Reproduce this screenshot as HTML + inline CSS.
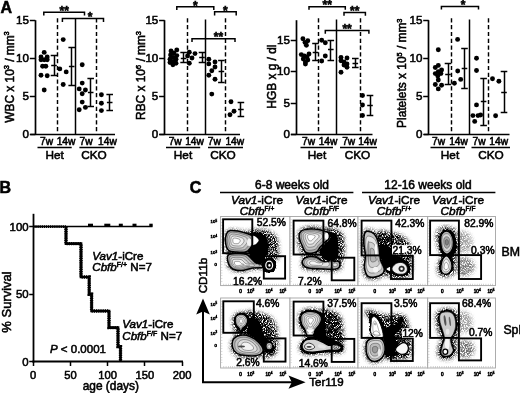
<!DOCTYPE html>
<html><head><meta charset="utf-8"><title>Figure</title>
<style>
html,body{margin:0;padding:0;background:#fff;}
svg{display:block;font-family:"Liberation Sans", Arial, sans-serif;}
text{stroke:#000;stroke-width:0.55px;}
</style></head><body>
<svg width="520" height="393" viewBox="0 0 520 393">
<rect width="520" height="393" fill="#fff"/>
<filter id="gb" x="0" y="0" width="520" height="393" filterUnits="userSpaceOnUse"><feGaussianBlur stdDeviation="0.42"/></filter>
<g filter="url(#gb)">
<line x1="35.50" y1="20.20" x2="35.50" y2="135.00" stroke="#000" stroke-width="1.7" />
<line x1="30.30" y1="134.50" x2="115.00" y2="134.50" stroke="#000" stroke-width="1.7" />
<line x1="29.80" y1="20.50" x2="35.30" y2="20.50" stroke="#000" stroke-width="1.5" />
<text x="29.00" y="24.00" font-size="11.6" text-anchor="end" font-weight="normal" font-style="normal" >15</text>
<line x1="29.80" y1="58.50" x2="35.30" y2="58.50" stroke="#000" stroke-width="1.5" />
<text x="29.00" y="61.80" font-size="11.6" text-anchor="end" font-weight="normal" font-style="normal" >10</text>
<line x1="29.80" y1="96.50" x2="35.30" y2="96.50" stroke="#000" stroke-width="1.5" />
<text x="29.00" y="99.80" font-size="11.6" text-anchor="end" font-weight="normal" font-style="normal" >5</text>
<line x1="29.80" y1="134.50" x2="35.30" y2="134.50" stroke="#000" stroke-width="1.5" />
<text x="29.00" y="137.60" font-size="11.6" text-anchor="end" font-weight="normal" font-style="normal" >0</text>
<line x1="57.50" y1="18.30" x2="57.50" y2="134.20" stroke="#000" stroke-width="1.45" stroke-dasharray="4.2 2.6" />
<line x1="75.50" y1="18.50" x2="75.50" y2="134.20" stroke="#000" stroke-width="1.5" />
<line x1="96.50" y1="18.30" x2="96.50" y2="134.20" stroke="#000" stroke-width="1.45" stroke-dasharray="4.2 2.6" />
<circle cx="44.2" cy="52.4" r="2.45"/>
<circle cx="41.0" cy="57.0" r="2.45"/>
<circle cx="47.2" cy="57.0" r="2.45"/>
<circle cx="41.0" cy="59.8" r="2.45"/>
<circle cx="44.2" cy="59.8" r="2.45"/>
<circle cx="47.2" cy="59.8" r="2.45"/>
<circle cx="42.6" cy="66.2" r="2.45"/>
<circle cx="45.8" cy="66.2" r="2.45"/>
<circle cx="41.0" cy="75.3" r="2.45"/>
<circle cx="47.2" cy="75.8" r="2.45"/>
<circle cx="44.2" cy="90.0" r="2.45"/>
<circle cx="63.2" cy="39.6" r="2.45"/>
<circle cx="59.8" cy="68.9" r="2.45"/>
<circle cx="66.2" cy="71.9" r="2.45"/>
<circle cx="63.2" cy="84.5" r="2.45"/>
<circle cx="82.2" cy="64.8" r="2.45"/>
<circle cx="82.2" cy="83.1" r="2.45"/>
<circle cx="79.2" cy="88.9" r="2.45"/>
<circle cx="85.4" cy="90.0" r="2.45"/>
<circle cx="82.2" cy="93.7" r="2.45"/>
<circle cx="82.2" cy="102.1" r="2.45"/>
<circle cx="85.4" cy="107.4" r="2.45"/>
<circle cx="79.2" cy="109.7" r="2.45"/>
<circle cx="101.4" cy="94.8" r="2.45"/>
<circle cx="101.4" cy="103.3" r="2.45"/>
<circle cx="101.4" cy="110.6" r="2.45"/>
<line x1="54.50" y1="55.20" x2="54.50" y2="75.30" stroke="#000" stroke-width="1.5" />
<line x1="50.70" y1="55.50" x2="57.30" y2="55.50" stroke="#000" stroke-width="1.5" />
<line x1="50.70" y1="75.50" x2="57.30" y2="75.50" stroke="#000" stroke-width="1.5" />
<line x1="51.20" y1="65.50" x2="56.80" y2="65.50" stroke="#000" stroke-width="1.5" />
<line x1="71.50" y1="47.20" x2="71.50" y2="85.00" stroke="#000" stroke-width="1.5" />
<line x1="68.40" y1="47.50" x2="75.00" y2="47.50" stroke="#000" stroke-width="1.5" />
<line x1="68.40" y1="85.50" x2="75.00" y2="85.50" stroke="#000" stroke-width="1.5" />
<line x1="68.90" y1="66.50" x2="74.50" y2="66.50" stroke="#000" stroke-width="1.5" />
<line x1="90.50" y1="78.10" x2="90.50" y2="106.70" stroke="#000" stroke-width="1.5" />
<line x1="87.40" y1="78.50" x2="94.00" y2="78.50" stroke="#000" stroke-width="1.5" />
<line x1="87.40" y1="106.50" x2="94.00" y2="106.50" stroke="#000" stroke-width="1.5" />
<line x1="87.90" y1="92.50" x2="93.50" y2="92.50" stroke="#000" stroke-width="1.5" />
<line x1="109.50" y1="94.80" x2="109.50" y2="110.60" stroke="#000" stroke-width="1.5" />
<line x1="106.40" y1="94.50" x2="113.00" y2="94.50" stroke="#000" stroke-width="1.5" />
<line x1="106.40" y1="110.50" x2="113.00" y2="110.50" stroke="#000" stroke-width="1.5" />
<line x1="106.90" y1="102.50" x2="112.50" y2="102.50" stroke="#000" stroke-width="1.5" />
<text transform="translate(13.6,77) rotate(-90)" font-size="11.9" text-anchor="middle">WBC x 10<tspan font-size="7.4" dy="-4.2">3</tspan><tspan dy="4.2"> / mm</tspan><tspan font-size="7.4" dy="-4.2">3</tspan></text>
<text x="46.50" y="145.30" font-size="10.2" text-anchor="middle" font-weight="normal" font-style="normal" >7w</text>
<text x="66.00" y="145.30" font-size="10.2" text-anchor="middle" font-weight="normal" font-style="normal" >14w</text>
<text x="86.00" y="145.30" font-size="10.2" text-anchor="middle" font-weight="normal" font-style="normal" >7w</text>
<text x="107.40" y="145.30" font-size="10.2" text-anchor="middle" font-weight="normal" font-style="normal" >14w</text>
<line x1="37.50" y1="147.50" x2="71.70" y2="147.50" stroke="#000" stroke-width="1.5" />
<line x1="79.40" y1="147.50" x2="114.40" y2="147.50" stroke="#000" stroke-width="1.5" />
<text x="54.60" y="159.20" font-size="11.8" text-anchor="middle" font-weight="normal" font-style="normal" >Het</text>
<text x="94.00" y="159.20" font-size="11.8" text-anchor="middle" font-weight="normal" font-style="normal" >CKO</text>
<path d="M43.80 15.50V12.30H84.50V15.50" fill="none" stroke="#000" stroke-width="1.5"/>
<text x="64.15" y="15.00" font-size="12" text-anchor="middle" font-weight="bold" font-style="normal" stroke-width="0.3">**</text>
<path d="M62.40 22.10V18.50H103.50V22.10" fill="none" stroke="#000" stroke-width="1.5"/>
<text x="90.00" y="21.20" font-size="12" text-anchor="middle" font-weight="bold" font-style="normal" stroke-width="0.3">*</text>
<!--chart2-->
<line x1="164.50" y1="20.20" x2="164.50" y2="135.00" stroke="#000" stroke-width="1.7" />
<line x1="159.50" y1="134.50" x2="240.00" y2="134.50" stroke="#000" stroke-width="1.7" />
<line x1="159.10" y1="20.50" x2="164.60" y2="20.50" stroke="#000" stroke-width="1.5" />
<text x="158.30" y="24.00" font-size="11.6" text-anchor="end" font-weight="normal" font-style="normal" >15</text>
<line x1="159.10" y1="58.50" x2="164.60" y2="58.50" stroke="#000" stroke-width="1.5" />
<text x="158.30" y="61.80" font-size="11.6" text-anchor="end" font-weight="normal" font-style="normal" >10</text>
<line x1="159.10" y1="96.50" x2="164.60" y2="96.50" stroke="#000" stroke-width="1.5" />
<text x="158.30" y="99.80" font-size="11.6" text-anchor="end" font-weight="normal" font-style="normal" >5</text>
<line x1="159.10" y1="134.50" x2="164.60" y2="134.50" stroke="#000" stroke-width="1.5" />
<text x="158.30" y="137.60" font-size="11.6" text-anchor="end" font-weight="normal" font-style="normal" >0</text>
<line x1="187.50" y1="18.30" x2="187.50" y2="134.20" stroke="#000" stroke-width="1.45" stroke-dasharray="4.2 2.6" />
<line x1="205.50" y1="19.50" x2="205.50" y2="134.20" stroke="#000" stroke-width="1.5" />
<line x1="225.50" y1="18.30" x2="225.50" y2="134.20" stroke="#000" stroke-width="1.45" stroke-dasharray="4.2 2.6" />
<circle cx="171.0" cy="51.0" r="2.45"/>
<circle cx="176.8" cy="50.0" r="2.45"/>
<circle cx="173.8" cy="53.0" r="2.45"/>
<circle cx="170.6" cy="55.0" r="2.45"/>
<circle cx="176.8" cy="55.6" r="2.45"/>
<circle cx="173.3" cy="57.5" r="2.45"/>
<circle cx="170.0" cy="59.3" r="2.45"/>
<circle cx="176.0" cy="59.3" r="2.45"/>
<circle cx="172.9" cy="61.6" r="2.45"/>
<circle cx="170.0" cy="62.5" r="2.45"/>
<circle cx="176.0" cy="63.2" r="2.45"/>
<circle cx="172.9" cy="64.8" r="2.45"/>
<circle cx="189.3" cy="52.2" r="2.45"/>
<circle cx="195.0" cy="53.6" r="2.45"/>
<circle cx="192.0" cy="58.0" r="2.45"/>
<circle cx="189.3" cy="63.2" r="2.45"/>
<circle cx="187.6" cy="56.0" r="2.45"/>
<circle cx="208.8" cy="59.3" r="2.45"/>
<circle cx="208.8" cy="63.9" r="2.45"/>
<circle cx="215.0" cy="62.0" r="2.45"/>
<circle cx="215.0" cy="67.0" r="2.45"/>
<circle cx="211.8" cy="70.8" r="2.45"/>
<circle cx="208.8" cy="75.3" r="2.45"/>
<circle cx="215.0" cy="79.2" r="2.45"/>
<circle cx="211.8" cy="94.1" r="2.45"/>
<circle cx="231.0" cy="101.7" r="2.45"/>
<circle cx="234.0" cy="111.3" r="2.45"/>
<circle cx="230.0" cy="114.7" r="2.45"/>
<line x1="183.50" y1="52.90" x2="183.50" y2="62.70" stroke="#000" stroke-width="1.5" />
<line x1="180.30" y1="52.50" x2="186.90" y2="52.50" stroke="#000" stroke-width="1.5" />
<line x1="180.30" y1="62.50" x2="186.90" y2="62.50" stroke="#000" stroke-width="1.5" />
<line x1="180.80" y1="58.50" x2="186.40" y2="58.50" stroke="#000" stroke-width="1.5" />
<line x1="202.50" y1="52.90" x2="202.50" y2="62.00" stroke="#000" stroke-width="1.5" />
<line x1="198.70" y1="52.50" x2="205.30" y2="52.50" stroke="#000" stroke-width="1.5" />
<line x1="198.70" y1="62.50" x2="205.30" y2="62.50" stroke="#000" stroke-width="1.5" />
<line x1="199.20" y1="57.50" x2="204.80" y2="57.50" stroke="#000" stroke-width="1.5" />
<line x1="221.50" y1="60.20" x2="221.50" y2="82.70" stroke="#000" stroke-width="1.5" />
<line x1="218.10" y1="60.50" x2="224.70" y2="60.50" stroke="#000" stroke-width="1.5" />
<line x1="218.10" y1="82.50" x2="224.70" y2="82.50" stroke="#000" stroke-width="1.5" />
<line x1="218.60" y1="71.50" x2="224.20" y2="71.50" stroke="#000" stroke-width="1.5" />
<line x1="240.50" y1="102.80" x2="240.50" y2="116.60" stroke="#000" stroke-width="1.5" />
<line x1="237.60" y1="102.50" x2="244.20" y2="102.50" stroke="#000" stroke-width="1.5" />
<line x1="237.60" y1="116.50" x2="244.20" y2="116.50" stroke="#000" stroke-width="1.5" />
<line x1="238.10" y1="109.50" x2="243.70" y2="109.50" stroke="#000" stroke-width="1.5" />
<text transform="translate(145,75.5) rotate(-90)" font-size="11.9" text-anchor="middle">RBC x 10<tspan font-size="7.4" dy="-4.2">6</tspan><tspan dy="4.2"> / mm</tspan><tspan font-size="7.4" dy="-4.2">3</tspan></text>
<text x="175.20" y="145.30" font-size="10.2" text-anchor="middle" font-weight="normal" font-style="normal" >7w</text>
<text x="194.50" y="145.30" font-size="10.2" text-anchor="middle" font-weight="normal" font-style="normal" >14w</text>
<text x="214.30" y="145.30" font-size="10.2" text-anchor="middle" font-weight="normal" font-style="normal" >7w</text>
<text x="234.80" y="145.30" font-size="10.2" text-anchor="middle" font-weight="normal" font-style="normal" >14w</text>
<line x1="166.00" y1="147.50" x2="200.20" y2="147.50" stroke="#000" stroke-width="1.5" />
<line x1="208.00" y1="147.50" x2="243.00" y2="147.50" stroke="#000" stroke-width="1.5" />
<text x="183.00" y="159.20" font-size="11.8" text-anchor="middle" font-weight="normal" font-style="normal" >Het</text>
<text x="223.00" y="159.20" font-size="11.8" text-anchor="middle" font-weight="normal" font-style="normal" >CKO</text>
<path d="M176.80 10.00V6.80H213.80V10.00" fill="none" stroke="#000" stroke-width="1.5"/>
<text x="195.30" y="9.50" font-size="12" text-anchor="middle" font-weight="bold" font-style="normal" stroke-width="0.3">*</text>
<path d="M214.60 15.40V11.80H236.20V15.40" fill="none" stroke="#000" stroke-width="1.5"/>
<text x="225.40" y="14.50" font-size="12" text-anchor="middle" font-weight="bold" font-style="normal" stroke-width="0.3">*</text>
<path d="M192.00 42.00V38.70H235.00V42.00" fill="none" stroke="#000" stroke-width="1.5"/>
<text x="218.40" y="41.40" font-size="12" text-anchor="middle" font-weight="bold" font-style="normal" stroke-width="0.3">**</text>
<!--chart3-->
<line x1="296.50" y1="20.20" x2="296.50" y2="135.00" stroke="#000" stroke-width="1.7" />
<line x1="291.00" y1="134.50" x2="372.50" y2="134.50" stroke="#000" stroke-width="1.7" />
<line x1="290.70" y1="40.50" x2="296.20" y2="40.50" stroke="#000" stroke-width="1.5" />
<text x="289.90" y="43.60" font-size="11.6" text-anchor="end" font-weight="normal" font-style="normal" >15</text>
<line x1="290.70" y1="71.50" x2="296.20" y2="71.50" stroke="#000" stroke-width="1.5" />
<text x="289.90" y="75.20" font-size="11.6" text-anchor="end" font-weight="normal" font-style="normal" >10</text>
<line x1="290.70" y1="103.50" x2="296.20" y2="103.50" stroke="#000" stroke-width="1.5" />
<text x="289.90" y="106.60" font-size="11.6" text-anchor="end" font-weight="normal" font-style="normal" >5</text>
<line x1="290.70" y1="134.50" x2="296.20" y2="134.50" stroke="#000" stroke-width="1.5" />
<text x="289.90" y="137.60" font-size="11.6" text-anchor="end" font-weight="normal" font-style="normal" >0</text>
<line x1="318.50" y1="18.30" x2="318.50" y2="134.20" stroke="#000" stroke-width="1.45" stroke-dasharray="4.2 2.6" />
<line x1="336.50" y1="19.50" x2="336.50" y2="134.20" stroke="#000" stroke-width="1.5" />
<line x1="360.50" y1="18.30" x2="360.50" y2="134.20" stroke="#000" stroke-width="1.45" stroke-dasharray="4.2 2.6" />
<circle cx="302.9" cy="38.7" r="2.45"/>
<circle cx="307.8" cy="40.7" r="2.45"/>
<circle cx="305.0" cy="42.4" r="2.45"/>
<circle cx="306.4" cy="45.2" r="2.45"/>
<circle cx="301.3" cy="54.6" r="2.45"/>
<circle cx="309.0" cy="54.0" r="2.45"/>
<circle cx="304.3" cy="56.0" r="2.45"/>
<circle cx="307.0" cy="57.0" r="2.45"/>
<circle cx="303.3" cy="59.0" r="2.45"/>
<circle cx="307.8" cy="60.0" r="2.45"/>
<circle cx="305.4" cy="62.0" r="2.45"/>
<circle cx="305.4" cy="64.0" r="2.45"/>
<circle cx="321.7" cy="40.3" r="2.45"/>
<circle cx="325.3" cy="42.8" r="2.45"/>
<circle cx="325.3" cy="56.0" r="2.45"/>
<circle cx="321.7" cy="61.0" r="2.45"/>
<circle cx="341.0" cy="57.4" r="2.45"/>
<circle cx="347.0" cy="58.0" r="2.45"/>
<circle cx="341.0" cy="60.7" r="2.45"/>
<circle cx="344.0" cy="62.0" r="2.45"/>
<circle cx="347.0" cy="64.0" r="2.45"/>
<circle cx="344.0" cy="65.0" r="2.45"/>
<circle cx="347.0" cy="67.2" r="2.45"/>
<circle cx="341.0" cy="72.3" r="2.45"/>
<circle cx="362.5" cy="95.5" r="2.45"/>
<circle cx="362.5" cy="105.0" r="2.45"/>
<circle cx="362.5" cy="115.5" r="2.45"/>
<line x1="315.50" y1="43.80" x2="315.50" y2="60.00" stroke="#000" stroke-width="1.5" />
<line x1="312.20" y1="43.50" x2="318.80" y2="43.50" stroke="#000" stroke-width="1.5" />
<line x1="312.20" y1="60.50" x2="318.80" y2="60.50" stroke="#000" stroke-width="1.5" />
<line x1="312.70" y1="52.50" x2="318.30" y2="52.50" stroke="#000" stroke-width="1.5" />
<line x1="330.50" y1="40.70" x2="330.50" y2="60.00" stroke="#000" stroke-width="1.5" />
<line x1="327.50" y1="40.50" x2="334.10" y2="40.50" stroke="#000" stroke-width="1.5" />
<line x1="327.50" y1="60.50" x2="334.10" y2="60.50" stroke="#000" stroke-width="1.5" />
<line x1="328.00" y1="49.50" x2="333.60" y2="49.50" stroke="#000" stroke-width="1.5" />
<line x1="355.50" y1="58.70" x2="355.50" y2="67.60" stroke="#000" stroke-width="1.5" />
<line x1="352.00" y1="58.50" x2="358.60" y2="58.50" stroke="#000" stroke-width="1.5" />
<line x1="352.00" y1="67.50" x2="358.60" y2="67.50" stroke="#000" stroke-width="1.5" />
<line x1="352.50" y1="63.50" x2="358.10" y2="63.50" stroke="#000" stroke-width="1.5" />
<line x1="370.50" y1="95.50" x2="370.50" y2="115.50" stroke="#000" stroke-width="1.5" />
<line x1="366.70" y1="95.50" x2="373.30" y2="95.50" stroke="#000" stroke-width="1.5" />
<line x1="366.70" y1="115.50" x2="373.30" y2="115.50" stroke="#000" stroke-width="1.5" />
<line x1="367.20" y1="105.50" x2="372.80" y2="105.50" stroke="#000" stroke-width="1.5" />
<text transform="translate(276,76.6) rotate(-90)" font-size="11.9" text-anchor="middle">HGB x g / dl</text>
<text x="308.50" y="145.30" font-size="10.2" text-anchor="middle" font-weight="normal" font-style="normal" >7w</text>
<text x="328.00" y="145.30" font-size="10.2" text-anchor="middle" font-weight="normal" font-style="normal" >14w</text>
<text x="348.70" y="145.30" font-size="10.2" text-anchor="middle" font-weight="normal" font-style="normal" >7w</text>
<text x="367.50" y="145.30" font-size="10.2" text-anchor="middle" font-weight="normal" font-style="normal" >14w</text>
<line x1="300.50" y1="147.50" x2="333.00" y2="147.50" stroke="#000" stroke-width="1.5" />
<line x1="340.00" y1="147.50" x2="377.00" y2="147.50" stroke="#000" stroke-width="1.5" />
<text x="317.00" y="159.20" font-size="11.8" text-anchor="middle" font-weight="normal" font-style="normal" >Het</text>
<text x="357.50" y="159.20" font-size="11.8" text-anchor="middle" font-weight="normal" font-style="normal" >CKO</text>
<path d="M309.00 9.70V6.70H345.30V9.70" fill="none" stroke="#000" stroke-width="1.5"/>
<text x="327.15" y="9.40" font-size="12" text-anchor="middle" font-weight="bold" font-style="normal" stroke-width="0.3">**</text>
<path d="M344.00 15.80V12.60H365.40V15.80" fill="none" stroke="#000" stroke-width="1.5"/>
<text x="354.70" y="15.30" font-size="12" text-anchor="middle" font-weight="bold" font-style="normal" stroke-width="0.3">**</text>
<path d="M325.30 33.70V30.50H368.90V33.70" fill="none" stroke="#000" stroke-width="1.5"/>
<text x="347.10" y="33.20" font-size="12" text-anchor="middle" font-weight="bold" font-style="normal" stroke-width="0.3">**</text>
<!--chart4-->
<line x1="428.50" y1="20.20" x2="428.50" y2="135.00" stroke="#000" stroke-width="1.7" />
<line x1="424.00" y1="134.50" x2="509.50" y2="134.50" stroke="#000" stroke-width="1.7" />
<line x1="423.20" y1="20.50" x2="428.70" y2="20.50" stroke="#000" stroke-width="1.5" />
<text x="422.40" y="24.00" font-size="11.6" text-anchor="end" font-weight="normal" font-style="normal" >15</text>
<line x1="423.20" y1="58.50" x2="428.70" y2="58.50" stroke="#000" stroke-width="1.5" />
<text x="422.40" y="61.80" font-size="11.6" text-anchor="end" font-weight="normal" font-style="normal" >10</text>
<line x1="423.20" y1="96.50" x2="428.70" y2="96.50" stroke="#000" stroke-width="1.5" />
<text x="422.40" y="99.80" font-size="11.6" text-anchor="end" font-weight="normal" font-style="normal" >5</text>
<line x1="423.20" y1="134.50" x2="428.70" y2="134.50" stroke="#000" stroke-width="1.5" />
<text x="422.40" y="137.60" font-size="11.6" text-anchor="end" font-weight="normal" font-style="normal" >0</text>
<line x1="451.50" y1="18.30" x2="451.50" y2="134.20" stroke="#000" stroke-width="1.45" stroke-dasharray="4.2 2.6" />
<line x1="469.50" y1="19.50" x2="469.50" y2="134.20" stroke="#000" stroke-width="1.5" />
<line x1="488.50" y1="18.30" x2="488.50" y2="134.20" stroke="#000" stroke-width="1.45" stroke-dasharray="4.2 2.6" />
<circle cx="438.3" cy="49.7" r="2.45"/>
<circle cx="438.3" cy="65.4" r="2.45"/>
<circle cx="435.3" cy="67.5" r="2.45"/>
<circle cx="441.6" cy="70.0" r="2.45"/>
<circle cx="438.3" cy="71.8" r="2.45"/>
<circle cx="435.3" cy="73.6" r="2.45"/>
<circle cx="440.9" cy="73.6" r="2.45"/>
<circle cx="437.8" cy="76.1" r="2.45"/>
<circle cx="438.3" cy="80.0" r="2.45"/>
<circle cx="435.3" cy="84.5" r="2.45"/>
<circle cx="441.6" cy="85.3" r="2.45"/>
<circle cx="438.3" cy="88.9" r="2.45"/>
<circle cx="457.6" cy="39.4" r="2.45"/>
<circle cx="457.7" cy="71.0" r="2.45"/>
<circle cx="460.7" cy="79.4" r="2.45"/>
<circle cx="454.4" cy="83.3" r="2.45"/>
<circle cx="476.5" cy="58.3" r="2.45"/>
<circle cx="476.5" cy="70.5" r="2.45"/>
<circle cx="476.5" cy="104.9" r="2.45"/>
<circle cx="472.9" cy="115.6" r="2.45"/>
<circle cx="478.0" cy="115.6" r="2.45"/>
<circle cx="480.6" cy="115.0" r="2.45"/>
<circle cx="474.7" cy="121.4" r="2.45"/>
<circle cx="492.5" cy="78.7" r="2.45"/>
<circle cx="498.9" cy="81.2" r="2.45"/>
<circle cx="495.6" cy="115.8" r="2.45"/>
<line x1="448.50" y1="63.70" x2="448.50" y2="84.50" stroke="#000" stroke-width="1.5" />
<line x1="444.70" y1="63.50" x2="451.30" y2="63.50" stroke="#000" stroke-width="1.5" />
<line x1="444.70" y1="84.50" x2="451.30" y2="84.50" stroke="#000" stroke-width="1.5" />
<line x1="445.20" y1="74.50" x2="450.80" y2="74.50" stroke="#000" stroke-width="1.5" />
<line x1="464.50" y1="48.10" x2="464.50" y2="88.30" stroke="#000" stroke-width="1.5" />
<line x1="461.20" y1="48.50" x2="467.80" y2="48.50" stroke="#000" stroke-width="1.5" />
<line x1="461.20" y1="88.50" x2="467.80" y2="88.50" stroke="#000" stroke-width="1.5" />
<line x1="461.70" y1="68.50" x2="467.30" y2="68.50" stroke="#000" stroke-width="1.5" />
<line x1="483.50" y1="78.20" x2="483.50" y2="125.80" stroke="#000" stroke-width="1.5" />
<line x1="480.30" y1="78.50" x2="486.90" y2="78.50" stroke="#000" stroke-width="1.5" />
<line x1="480.30" y1="125.50" x2="486.90" y2="125.50" stroke="#000" stroke-width="1.5" />
<line x1="480.80" y1="101.50" x2="486.40" y2="101.50" stroke="#000" stroke-width="1.5" />
<line x1="504.50" y1="71.30" x2="504.50" y2="112.50" stroke="#000" stroke-width="1.5" />
<line x1="500.70" y1="71.50" x2="507.30" y2="71.50" stroke="#000" stroke-width="1.5" />
<line x1="500.70" y1="112.50" x2="507.30" y2="112.50" stroke="#000" stroke-width="1.5" />
<line x1="501.20" y1="92.50" x2="506.80" y2="92.50" stroke="#000" stroke-width="1.5" />
<text transform="translate(406,73.2) rotate(-90)" font-size="11.9" text-anchor="middle">Platelets x 10<tspan font-size="7.4" dy="-4.2">5</tspan><tspan dy="4.2"> / mm</tspan><tspan font-size="7.4" dy="-4.2">3</tspan></text>
<text x="438.50" y="145.30" font-size="10.2" text-anchor="middle" font-weight="normal" font-style="normal" >7w</text>
<text x="458.50" y="145.30" font-size="10.2" text-anchor="middle" font-weight="normal" font-style="normal" >14w</text>
<text x="479.00" y="145.30" font-size="10.2" text-anchor="middle" font-weight="normal" font-style="normal" >7w</text>
<text x="498.70" y="145.30" font-size="10.2" text-anchor="middle" font-weight="normal" font-style="normal" >14w</text>
<line x1="430.50" y1="147.50" x2="465.00" y2="147.50" stroke="#000" stroke-width="1.5" />
<line x1="471.50" y1="147.50" x2="510.00" y2="147.50" stroke="#000" stroke-width="1.5" />
<text x="450.00" y="159.20" font-size="11.8" text-anchor="middle" font-weight="normal" font-style="normal" >Het</text>
<text x="491.00" y="159.20" font-size="11.8" text-anchor="middle" font-weight="normal" font-style="normal" >CKO</text>
<path d="M441.40 9.60V6.50H478.50V9.60" fill="none" stroke="#000" stroke-width="1.5"/>
<text x="463.20" y="9.20" font-size="12" text-anchor="middle" font-weight="bold" font-style="normal" stroke-width="0.3">*</text>
<text x="0.60" y="12.50" font-size="16" text-anchor="start" font-weight="bold" font-style="normal" >A</text>
<text x="-0.60" y="192.50" font-size="16" text-anchor="start" font-weight="bold" font-style="normal" >B</text>
<text x="189.80" y="192.70" font-size="16" text-anchor="start" font-weight="bold" font-style="normal" >C</text>
<!--panelB-->
<line x1="33.50" y1="213.80" x2="33.50" y2="362.60" stroke="#000" stroke-width="1.8" />
<line x1="32.40" y1="361.50" x2="183.00" y2="361.50" stroke="#000" stroke-width="1.8" />
<line x1="29.20" y1="226.50" x2="33.20" y2="226.50" stroke="#000" stroke-width="1.5" />
<text x="28.60" y="230.60" font-size="11.4" text-anchor="end" font-weight="normal" font-style="normal" stroke-width="0.38">100</text>
<line x1="29.20" y1="294.50" x2="33.20" y2="294.50" stroke="#000" stroke-width="1.5" />
<text x="28.60" y="298.20" font-size="11.4" text-anchor="end" font-weight="normal" font-style="normal" stroke-width="0.38">50</text>
<line x1="29.20" y1="361.50" x2="33.20" y2="361.50" stroke="#000" stroke-width="1.5" />
<text x="28.60" y="365.80" font-size="11.4" text-anchor="end" font-weight="normal" font-style="normal" stroke-width="0.38">0</text>
<line x1="33.50" y1="361.80" x2="33.50" y2="366.00" stroke="#000" stroke-width="1.5" />
<text x="33.20" y="378.50" font-size="11.2" text-anchor="middle" font-weight="normal" font-style="normal" stroke-width="0.38">0</text>
<line x1="70.50" y1="361.80" x2="70.50" y2="366.00" stroke="#000" stroke-width="1.5" />
<text x="70.40" y="378.50" font-size="11.2" text-anchor="middle" font-weight="normal" font-style="normal" stroke-width="0.38">50</text>
<line x1="107.50" y1="361.80" x2="107.50" y2="366.00" stroke="#000" stroke-width="1.5" />
<text x="107.60" y="378.50" font-size="11.2" text-anchor="middle" font-weight="normal" font-style="normal" stroke-width="0.38">100</text>
<line x1="144.50" y1="361.80" x2="144.50" y2="366.00" stroke="#000" stroke-width="1.5" />
<text x="144.90" y="378.50" font-size="11.2" text-anchor="middle" font-weight="normal" font-style="normal" stroke-width="0.38">150</text>
<line x1="182.50" y1="361.80" x2="182.50" y2="366.00" stroke="#000" stroke-width="1.5" />
<text x="182.20" y="378.50" font-size="11.2" text-anchor="middle" font-weight="normal" font-style="normal" stroke-width="0.38">200</text>
<text x="110.80" y="390.40" font-size="11.9" text-anchor="middle" font-weight="normal" font-style="normal" >age (days)</text>
<text transform="translate(10.7,302) rotate(-90)" font-size="13" text-anchor="middle">% Survival</text>
<line x1="33.20" y1="226.50" x2="152.50" y2="226.50" stroke="#000" stroke-width="1.6" />
<rect x="88.0" y="223.7" width="5" height="2.8"/>
<rect x="104.3" y="223.7" width="6" height="2.8"/>
<rect x="118.8" y="223.7" width="4" height="2.8"/>
<rect x="132.5" y="223.7" width="4" height="2.8"/>
<rect x="149.3" y="223.7" width="3.4" height="2.8"/>
<path d="M33.2 226.6H66" fill="none" stroke="#000" stroke-width="2.6" stroke-dasharray="1.4 0.7"/>
<path d="M66 226.6 L66 243.6 L81 243.6 L81 277 L89.2 277 L89.2 294.2 L91.6 294.2 L91.6 311 L109 311 L109 327.6 L118 327.6 L118 346.6 L120.5 346.6 L120.5 361.8" fill="none" stroke="#000" stroke-width="2.7" stroke-linejoin="miter"/>
<path d="M66 226.6 L66 243.6 L81 243.6 L81 277 L89.2 277 L89.2 294.2 L91.6 294.2 L91.6 311 L109 311 L109 327.6 L118 327.6 L118 346.6 L120.5 346.6 L120.5 361.8" fill="none" stroke="#000" stroke-width="3.4" stroke-dasharray="1.2 1.0"/>
<text x="92.3" y="260" font-size="11.6"><tspan font-style="italic">Vav1</tspan>-iCre</text>
<text x="92.3" y="271.2" font-size="11.6"><tspan font-style="italic">Cbfb</tspan><tspan font-size="7" dy="-3.8">F/+</tspan><tspan dy="3.8"> N=7</tspan></text>
<text x="122.3" y="328.2" font-size="11.6"><tspan font-style="italic">Vav1</tspan>-iCre</text>
<text x="122.3" y="340" font-size="11.6"><tspan font-style="italic">Cbfb</tspan><tspan font-size="7" dy="-3.8">F/F</tspan><tspan dy="3.8"> N=7</tspan></text>
<text x="50" y="353.2" font-size="11.5"><tspan font-style="italic">P</tspan> &lt; 0.0001</text>
<!--panelC-->
<text x="292.00" y="189.00" font-size="12" text-anchor="middle" font-weight="normal" font-style="normal" >6-8 weeks old</text>
<line x1="220.00" y1="192.50" x2="353.40" y2="192.50" stroke="#000" stroke-width="1.5" />
<text x="428.00" y="189.00" font-size="12" text-anchor="middle" font-weight="normal" font-style="normal" >12-16 weeks old</text>
<line x1="362.00" y1="192.50" x2="495.40" y2="192.50" stroke="#000" stroke-width="1.5" />
<text x="257" y="204.3" font-size="11.8" text-anchor="middle" stroke-width="0.4"><tspan font-style="italic">Vav1</tspan>-iCre</text>
<text x="257" y="214.8" font-size="11.8" text-anchor="middle" stroke-width="0.4"><tspan font-style="italic">Cbfb</tspan><tspan font-size="6.6" dy="-4.2">F/+</tspan></text>
<text x="321.5" y="204.3" font-size="11.8" text-anchor="middle" stroke-width="0.4"><tspan font-style="italic">Vav1</tspan>-iCre</text>
<text x="321.5" y="214.8" font-size="11.8" text-anchor="middle" stroke-width="0.4"><tspan font-style="italic">Cbfb</tspan><tspan font-size="6.6" dy="-4.2">F/F</tspan></text>
<text x="394" y="204.3" font-size="11.8" text-anchor="middle" stroke-width="0.4"><tspan font-style="italic">Vav1</tspan>-iCre</text>
<text x="394" y="214.8" font-size="11.8" text-anchor="middle" stroke-width="0.4"><tspan font-style="italic">Cbfb</tspan><tspan font-size="6.6" dy="-4.2">F/+</tspan></text>
<text x="458" y="204.3" font-size="11.8" text-anchor="middle" stroke-width="0.4"><tspan font-style="italic">Vav1</tspan>-iCre</text>
<text x="458" y="214.8" font-size="11.8" text-anchor="middle" stroke-width="0.4"><tspan font-style="italic">Cbfb</tspan><tspan font-size="6.6" dy="-4.2">F/F</tspan></text>
<text x="501.60" y="255.70" font-size="12.3" text-anchor="start" font-weight="normal" font-style="normal" stroke-width="0.75">BM</text>
<text x="503.40" y="333.50" font-size="12.3" text-anchor="start" font-weight="normal" font-style="normal" stroke-width="0.75">Spl</text>
<path d="M203 382.2V310" fill="none" stroke="#000" stroke-width="2"/>
<path d="M202 382.2H292" fill="none" stroke="#000" stroke-width="2"/>
<path d="M203 298.6L196.2 314.5L203 311.5L209.8 314.5Z"/>
<path d="M305.6 382.2L288.5 375.6L291.8 382.2L288.5 388.8Z"/>
<text transform="translate(206.8,275.6) rotate(-90)" font-size="11.7" stroke-width="0.95" text-anchor="middle">CD11b</text>
<text x="309.30" y="386.30" font-size="11.5" text-anchor="start" font-weight="normal" font-style="normal" stroke-width="0.8">Ter119</text>
<defs>
<filter id="spk" x="-30%" y="-30%" width="160%" height="160%" color-interpolation-filters="sRGB">
  <feGaussianBlur in="SourceAlpha" stdDeviation="1.2" result="b"/>
  <feTurbulence type="fractalNoise" baseFrequency="0.85" numOctaves="2" seed="3" result="n"/>
  <feComposite in="b" in2="n" operator="arithmetic" k1="0" k2="1" k3="0.9" k4="-0.45" result="c"/>
  <feComponentTransfer in="c"><feFuncA type="linear" slope="5" intercept="-1.9"/><feFuncR type="discrete" tableValues="0"/><feFuncG type="discrete" tableValues="0"/><feFuncB type="discrete" tableValues="0"/></feComponentTransfer>
</filter>
<filter id="halo" x="-40%" y="-40%" width="180%" height="180%" color-interpolation-filters="sRGB">
  <feGaussianBlur in="SourceAlpha" stdDeviation="1.9" result="b"/>
  <feTurbulence type="fractalNoise" baseFrequency="1.1" numOctaves="2" seed="11" result="n"/>
  <feColorMatrix in="n" type="matrix" values="0 0 0 0 0  0 0 0 0 0  0 0 0 0 0  0 0 0 3.2 -1.0" result="n2"/>
  <feComposite in="b" in2="n2" operator="arithmetic" k1="1.25" k2="0.0" k3="0" k4="0" result="c"/>
  <feComponentTransfer in="c"><feFuncR type="discrete" tableValues="0"/><feFuncG type="discrete" tableValues="0"/><feFuncB type="discrete" tableValues="0"/></feComponentTransfer>
</filter>
<filter id="soft" x="-10%" y="-10%" width="120%" height="120%"><feGaussianBlur stdDeviation="0.5"/></filter>
</defs>
<rect x="220.6" y="216.5" width="69.4" height="69.1" fill="#fff" stroke="#a4a4a4" stroke-width="0.9"/>
<line x1="223.6" y1="284.5" x2="288" y2="284.5" stroke="#aaa" stroke-width="1.6" stroke-dasharray="0.5 1.7"/>
<line x1="221.7" y1="219.5" x2="221.7" y2="282.6" stroke="#bbb" stroke-width="1.4" stroke-dasharray="0.5 2.3"/>
<rect x="290" y="216.5" width="68.0" height="69.1" fill="#fff" stroke="#a4a4a4" stroke-width="0.9"/>
<line x1="293" y1="284.5" x2="356" y2="284.5" stroke="#aaa" stroke-width="1.6" stroke-dasharray="0.5 1.7"/>
<line x1="291.1" y1="219.5" x2="291.1" y2="282.6" stroke="#bbb" stroke-width="1.4" stroke-dasharray="0.5 2.3"/>
<rect x="358" y="216.5" width="69.7" height="69.1" fill="#fff" stroke="#a4a4a4" stroke-width="0.9"/>
<line x1="361" y1="284.5" x2="425.7" y2="284.5" stroke="#aaa" stroke-width="1.6" stroke-dasharray="0.5 1.7"/>
<line x1="359.1" y1="219.5" x2="359.1" y2="282.6" stroke="#bbb" stroke-width="1.4" stroke-dasharray="0.5 2.3"/>
<rect x="427.7" y="216.5" width="67.8" height="69.1" fill="#fff" stroke="#a4a4a4" stroke-width="0.9"/>
<line x1="430.7" y1="284.5" x2="493.5" y2="284.5" stroke="#aaa" stroke-width="1.6" stroke-dasharray="0.5 1.7"/>
<line x1="428.8" y1="219.5" x2="428.8" y2="282.6" stroke="#bbb" stroke-width="1.4" stroke-dasharray="0.5 2.3"/>
<rect x="220.6" y="298" width="69.4" height="70.0" fill="#fff" stroke="#a4a4a4" stroke-width="0.9"/>
<line x1="223.6" y1="366.9" x2="288" y2="366.9" stroke="#aaa" stroke-width="1.6" stroke-dasharray="0.5 1.7"/>
<line x1="221.7" y1="301" x2="221.7" y2="365" stroke="#bbb" stroke-width="1.4" stroke-dasharray="0.5 2.3"/>
<rect x="290" y="298" width="68.0" height="70.0" fill="#fff" stroke="#a4a4a4" stroke-width="0.9"/>
<line x1="293" y1="366.9" x2="356" y2="366.9" stroke="#aaa" stroke-width="1.6" stroke-dasharray="0.5 1.7"/>
<line x1="291.1" y1="301" x2="291.1" y2="365" stroke="#bbb" stroke-width="1.4" stroke-dasharray="0.5 2.3"/>
<rect x="358" y="298" width="69.7" height="70.0" fill="#fff" stroke="#a4a4a4" stroke-width="0.9"/>
<line x1="361" y1="366.9" x2="425.7" y2="366.9" stroke="#aaa" stroke-width="1.6" stroke-dasharray="0.5 1.7"/>
<line x1="359.1" y1="301" x2="359.1" y2="365" stroke="#bbb" stroke-width="1.4" stroke-dasharray="0.5 2.3"/>
<rect x="427.7" y="298" width="67.8" height="70.0" fill="#fff" stroke="#a4a4a4" stroke-width="0.9"/>
<line x1="430.7" y1="366.9" x2="493.5" y2="366.9" stroke="#aaa" stroke-width="1.6" stroke-dasharray="0.5 1.7"/>
<line x1="428.8" y1="301" x2="428.8" y2="365" stroke="#bbb" stroke-width="1.4" stroke-dasharray="0.5 2.3"/>
<text x="217.0" y="223.4" font-size="4.3" text-anchor="end" stroke-width="0.25" fill="#222">10<tspan font-size="2.9" dy="-1.7">5</tspan></text>
<text x="217.0" y="238.4" font-size="4.3" text-anchor="end" stroke-width="0.25" fill="#222">10<tspan font-size="2.9" dy="-1.7">4</tspan></text>
<text x="217.0" y="254.4" font-size="4.3" text-anchor="end" stroke-width="0.25" fill="#222">10<tspan font-size="2.9" dy="-1.7">3</tspan></text>
<text x="217.0" y="266.4" font-size="4.3" text-anchor="end" stroke-width="0.25" fill="#222">0</text>
<text x="217.0" y="305.6" font-size="4.3" text-anchor="end" stroke-width="0.25" fill="#222">10<tspan font-size="2.9" dy="-1.7">5</tspan></text>
<text x="217.0" y="320.0" font-size="4.3" text-anchor="end" stroke-width="0.25" fill="#222">10<tspan font-size="2.9" dy="-1.7">4</tspan></text>
<text x="217.0" y="334.9" font-size="4.3" text-anchor="end" stroke-width="0.25" fill="#222">10<tspan font-size="2.9" dy="-1.7">3</tspan></text>
<text x="217.0" y="347.4" font-size="4.3" text-anchor="end" stroke-width="0.25" fill="#222">0</text>
<text x="240.5" y="293.0" font-size="4.6" text-anchor="middle" stroke-width="0.25" fill="#222">0</text>
<text x="250.8" y="293.0" font-size="4.6" text-anchor="middle" stroke-width="0.25" fill="#222">10<tspan font-size="3.1" dy="-1.7">3</tspan></text>
<text x="269.0" y="293.0" font-size="4.6" text-anchor="middle" stroke-width="0.25" fill="#222">10<tspan font-size="3.1" dy="-1.7">4</tspan></text>
<text x="282.9" y="293.0" font-size="4.6" text-anchor="middle" stroke-width="0.25" fill="#222">10<tspan font-size="3.1" dy="-1.7">5</tspan></text>
<text x="309.7" y="293.0" font-size="4.6" text-anchor="middle" stroke-width="0.25" fill="#222">0</text>
<text x="319.3" y="293.0" font-size="4.6" text-anchor="middle" stroke-width="0.25" fill="#222">10<tspan font-size="3.1" dy="-1.7">3</tspan></text>
<text x="338.0" y="293.0" font-size="4.6" text-anchor="middle" stroke-width="0.25" fill="#222">10<tspan font-size="3.1" dy="-1.7">4</tspan></text>
<text x="351.9" y="293.0" font-size="4.6" text-anchor="middle" stroke-width="0.25" fill="#222">10<tspan font-size="3.1" dy="-1.7">5</tspan></text>
<text x="374.7" y="293.0" font-size="4.6" text-anchor="middle" stroke-width="0.25" fill="#222">0</text>
<text x="392.4" y="293.0" font-size="4.6" text-anchor="middle" stroke-width="0.25" fill="#222">10<tspan font-size="3.1" dy="-1.7">3</tspan></text>
<text x="408.4" y="293.0" font-size="4.6" text-anchor="middle" stroke-width="0.25" fill="#222">10<tspan font-size="3.1" dy="-1.7">4</tspan></text>
<text x="421.0" y="293.0" font-size="4.6" text-anchor="middle" stroke-width="0.25" fill="#222">10<tspan font-size="3.1" dy="-1.7">5</tspan></text>
<text x="442.4" y="293.0" font-size="4.6" text-anchor="middle" stroke-width="0.25" fill="#222">0</text>
<text x="460.0" y="293.0" font-size="4.6" text-anchor="middle" stroke-width="0.25" fill="#222">10<tspan font-size="3.1" dy="-1.7">3</tspan></text>
<text x="477.2" y="293.0" font-size="4.6" text-anchor="middle" stroke-width="0.25" fill="#222">10<tspan font-size="3.1" dy="-1.7">4</tspan></text>
<text x="491.0" y="293.0" font-size="4.6" text-anchor="middle" stroke-width="0.25" fill="#222">10<tspan font-size="3.1" dy="-1.7">5</tspan></text>
<text x="240.5" y="376.1" font-size="4.6" text-anchor="middle" stroke-width="0.25" fill="#222">0</text>
<text x="250.8" y="376.1" font-size="4.6" text-anchor="middle" stroke-width="0.25" fill="#222">10<tspan font-size="3.1" dy="-1.7">3</tspan></text>
<text x="269.0" y="376.1" font-size="4.6" text-anchor="middle" stroke-width="0.25" fill="#222">10<tspan font-size="3.1" dy="-1.7">4</tspan></text>
<text x="282.9" y="376.1" font-size="4.6" text-anchor="middle" stroke-width="0.25" fill="#222">10<tspan font-size="3.1" dy="-1.7">5</tspan></text>
<text x="309.7" y="376.1" font-size="4.6" text-anchor="middle" stroke-width="0.25" fill="#222">0</text>
<text x="319.3" y="376.1" font-size="4.6" text-anchor="middle" stroke-width="0.25" fill="#222">10<tspan font-size="3.1" dy="-1.7">3</tspan></text>
<text x="338.0" y="376.1" font-size="4.6" text-anchor="middle" stroke-width="0.25" fill="#222">10<tspan font-size="3.1" dy="-1.7">4</tspan></text>
<text x="351.9" y="376.1" font-size="4.6" text-anchor="middle" stroke-width="0.25" fill="#222">10<tspan font-size="3.1" dy="-1.7">5</tspan></text>
<text x="374.7" y="376.1" font-size="4.6" text-anchor="middle" stroke-width="0.25" fill="#222">0</text>
<text x="392.4" y="376.1" font-size="4.6" text-anchor="middle" stroke-width="0.25" fill="#222">10<tspan font-size="3.1" dy="-1.7">3</tspan></text>
<text x="408.4" y="376.1" font-size="4.6" text-anchor="middle" stroke-width="0.25" fill="#222">10<tspan font-size="3.1" dy="-1.7">4</tspan></text>
<text x="421.0" y="376.1" font-size="4.6" text-anchor="middle" stroke-width="0.25" fill="#222">10<tspan font-size="3.1" dy="-1.7">5</tspan></text>
<text x="442.4" y="376.1" font-size="4.6" text-anchor="middle" stroke-width="0.25" fill="#222">0</text>
<text x="460.0" y="376.1" font-size="4.6" text-anchor="middle" stroke-width="0.25" fill="#222">10<tspan font-size="3.1" dy="-1.7">3</tspan></text>
<text x="477.2" y="376.1" font-size="4.6" text-anchor="middle" stroke-width="0.25" fill="#222">10<tspan font-size="3.1" dy="-1.7">4</tspan></text>
<text x="491.0" y="376.1" font-size="4.6" text-anchor="middle" stroke-width="0.25" fill="#222">10<tspan font-size="3.1" dy="-1.7">5</tspan></text>
<path d="M248.1 232.8C249.9 228.7 254.9 230.0 258.5 229.8C262.1 229.6 266.7 230.3 269.8 231.7C272.8 233.1 275.3 235.2 276.8 238.5C278.2 241.8 278.1 248.2 278.3 251.7C278.5 255.1 280.1 257.9 277.9 259.2C275.7 260.5 268.8 258.5 265.1 259.2C261.4 259.9 258.5 264.1 255.7 263.3C252.8 262.6 249.4 259.6 248.1 254.5C246.9 249.4 246.4 236.9 248.1 232.8Z" fill="#000" filter="url(#halo)" opacity="1"/>
<path d="M226.5 232.8C227.5 230.8 227.9 230.0 231.2 229.8C234.5 229.7 242.5 230.9 246.2 231.9C250.0 232.9 252.4 233.8 253.8 235.7C255.2 237.5 255.7 240.4 254.7 243.2C253.8 246.0 248.6 249.9 248.1 252.6C247.7 255.3 250.2 257.4 251.9 259.2C253.6 261.0 256.6 262.4 258.5 263.3C260.4 264.3 262.5 263.9 263.2 264.8C263.9 265.8 264.3 268.2 262.4 269.0C260.6 269.7 255.5 268.9 251.9 269.4C248.3 269.8 244.1 271.6 240.6 271.6C237.1 271.7 233.4 271.1 231.2 269.7C228.9 268.4 227.6 266.0 227.0 263.3C226.5 260.7 228.2 257.4 227.8 253.9C227.4 250.4 225.0 245.8 224.8 242.2C224.6 238.7 225.4 234.9 226.5 232.8Z" fill="#000" filter="url(#halo)" opacity="0.9"/>
<path d="M247.8 235.1C249.3 232.9 254.5 232.9 257.2 232.8C259.9 232.8 262.3 233.5 264.0 234.7C265.6 235.9 266.7 237.9 267.3 240.0C268.0 242.0 268.1 244.6 268.1 247.0C268.1 249.3 267.9 252.1 267.3 253.9C266.8 255.7 265.4 256.1 264.7 257.7C264.0 259.3 263.9 262.2 263.2 263.3C262.5 264.5 262.1 264.8 260.4 264.5C258.6 264.1 254.7 262.7 252.8 261.1C251.0 259.4 249.9 257.0 249.1 254.5C248.3 252.0 248.4 249.2 248.1 246.0C247.9 242.8 246.2 237.3 247.8 235.1Z" fill="#000" filter="url(#spk)" opacity="1"/>
<path d="M226.5 233.8C227.3 231.8 228.4 231.0 230.2 230.6C232.1 230.1 235.1 230.5 237.8 230.9C240.4 231.4 243.7 232.3 246.2 233.2C248.8 234.1 251.5 234.7 252.8 236.2C254.2 237.7 254.6 240.3 254.2 242.2C253.8 244.2 251.7 246.3 250.4 247.9C249.1 249.5 248.5 251.0 246.2 251.7C244.0 252.4 239.8 252.3 236.8 252.0C233.9 251.8 230.2 251.8 228.4 250.2C226.5 248.5 225.8 245.0 225.5 242.2C225.2 239.5 225.7 235.7 226.5 233.8Z" fill="#a8a8a8" stroke="#000" stroke-width="1.5"/>
<path d="M228.1 235.0C228.7 233.4 229.6 232.8 231.2 232.4C232.7 232.0 235.1 232.4 237.3 232.7C239.5 233.1 242.2 233.8 244.3 234.6C246.3 235.3 248.6 235.8 249.7 237.0C250.8 238.3 251.1 240.4 250.8 242.0C250.4 243.6 248.8 245.3 247.7 246.6C246.6 247.9 246.1 249.1 244.3 249.7C242.4 250.3 239.0 250.2 236.6 250.0C234.1 249.8 231.2 249.8 229.6 248.5C228.1 247.1 227.6 244.2 227.3 242.0C227.0 239.7 227.4 236.6 228.1 235.0Z" fill="#c4c4c4" stroke="#333" stroke-width="0.45"/>
<path d="M229.7 236.3C230.2 235.0 230.9 234.5 232.1 234.2C233.3 233.9 235.2 234.2 236.9 234.5C238.6 234.8 240.7 235.4 242.3 235.9C243.9 236.5 245.7 236.9 246.5 237.8C247.4 238.8 247.6 240.5 247.4 241.7C247.1 243.0 245.8 244.3 245.0 245.3C244.1 246.3 243.8 247.3 242.3 247.7C240.9 248.2 238.2 248.1 236.3 248.0C234.4 247.8 232.1 247.8 230.9 246.8C229.7 245.7 229.3 243.5 229.1 241.7C228.9 240.0 229.2 237.5 229.7 236.3Z" fill="#dcdcdc" stroke="#333" stroke-width="0.45"/>
<path d="M231.3 237.5C231.6 236.6 232.1 236.3 233.0 236.1C233.9 235.8 235.2 236.0 236.5 236.2C237.7 236.4 239.2 236.9 240.4 237.3C241.5 237.7 242.8 238.0 243.4 238.7C244.0 239.4 244.2 240.5 244.0 241.4C243.8 242.3 242.9 243.3 242.3 244.0C241.6 244.8 241.4 245.4 240.4 245.8C239.3 246.1 237.4 246.1 236.0 245.9C234.6 245.8 233.0 245.8 232.1 245.1C231.3 244.3 231.0 242.7 230.8 241.4C230.7 240.2 230.9 238.4 231.3 237.5Z" fill="#f0f0f0" stroke="#333" stroke-width="0.45"/>
<path d="M233.0 238.9C233.2 238.4 233.5 238.2 234.0 238.1C234.5 238.0 235.3 238.1 236.0 238.2C236.7 238.3 237.5 238.6 238.2 238.8C238.8 239.0 239.5 239.2 239.9 239.6C240.2 240.0 240.3 240.6 240.2 241.1C240.1 241.6 239.6 242.2 239.2 242.6C238.9 243.0 238.8 243.4 238.2 243.6C237.6 243.8 236.5 243.7 235.7 243.7C234.9 243.6 234.0 243.6 233.5 243.2C233.0 242.8 232.9 241.8 232.8 241.1C232.7 240.4 232.8 239.4 233.0 238.9Z" fill="#ffffff" stroke="#333" stroke-width="0.45"/>
<ellipse cx="249.3" cy="242.2" rx="2.3" ry="3.8" fill="#f2f2f2" stroke="none" stroke-width="0.5" transform="rotate(0 249.3 242.2)"/>
<path d="M228.4 255.1C229.8 253.4 233.9 253.7 236.8 253.5C239.8 253.4 243.7 253.4 246.2 254.3C248.8 255.2 250.2 257.7 251.9 259.2C253.6 260.7 254.7 262.5 256.6 263.3C258.5 264.2 262.1 263.8 263.2 264.5C264.3 265.2 264.9 266.9 263.2 267.5C261.5 268.0 256.4 267.4 252.8 267.9C249.2 268.4 244.9 270.3 241.5 270.5C238.2 270.7 234.9 270.2 232.7 269.0C230.5 267.8 229.1 265.7 228.4 263.3C227.6 261.0 226.9 256.7 228.4 255.1Z" fill="#a8a8a8" stroke="#000" stroke-width="1.5"/>
<path d="M229.9 256.7C231.0 255.3 234.4 255.5 236.8 255.4C239.3 255.3 242.5 255.3 244.6 256.1C246.6 256.8 247.8 258.8 249.2 260.1C250.6 261.3 251.5 262.8 253.0 263.5C254.6 264.2 257.6 263.8 258.5 264.4C259.4 265.0 259.9 266.4 258.5 266.9C257.0 267.3 252.9 266.8 250.0 267.2C247.0 267.6 243.4 269.2 240.7 269.3C237.9 269.5 235.2 269.1 233.4 268.1C231.6 267.1 230.5 265.4 229.9 263.5C229.3 261.6 228.7 258.0 229.9 256.7Z" fill="#c4c4c4" stroke="#333" stroke-width="0.45"/>
<path d="M231.4 258.3C232.3 257.3 234.9 257.4 236.8 257.3C238.7 257.3 241.3 257.2 242.9 257.8C244.5 258.4 245.4 260.0 246.5 261.0C247.6 261.9 248.3 263.0 249.5 263.6C250.7 264.2 253.0 263.9 253.7 264.3C254.4 264.8 254.8 265.9 253.7 266.3C252.6 266.6 249.4 266.2 247.1 266.5C244.8 266.8 242.0 268.1 239.8 268.2C237.7 268.3 235.6 268.0 234.2 267.2C232.8 266.5 231.9 265.1 231.4 263.6C230.9 262.1 230.5 259.4 231.4 258.3Z" fill="#dcdcdc" stroke="#333" stroke-width="0.45"/>
<path d="M232.9 259.9C233.6 259.2 235.5 259.3 236.8 259.2C238.2 259.2 240.0 259.2 241.2 259.6C242.3 260.0 243.0 261.1 243.8 261.8C244.6 262.5 245.1 263.3 245.9 263.7C246.8 264.2 248.5 263.9 249.0 264.3C249.5 264.6 249.8 265.4 249.0 265.7C248.2 265.9 245.9 265.6 244.2 265.8C242.5 266.1 240.5 267.0 239.0 267.0C237.5 267.1 235.9 266.9 234.9 266.3C233.9 265.8 233.3 264.8 232.9 263.7C232.6 262.7 232.3 260.7 232.9 259.9Z" fill="#f0f0f0" stroke="#333" stroke-width="0.45"/>
<path d="M234.6 261.7C235.0 261.3 236.1 261.4 236.8 261.4C237.6 261.3 238.6 261.3 239.3 261.5C239.9 261.8 240.3 262.4 240.7 262.8C241.2 263.2 241.5 263.7 242.0 263.9C242.5 264.1 243.4 264.0 243.7 264.2C244.0 264.4 244.1 264.8 243.7 265.0C243.2 265.1 241.9 264.9 241.0 265.1C240.1 265.2 238.9 265.7 238.1 265.8C237.2 265.8 236.3 265.7 235.8 265.4C235.2 265.1 234.8 264.5 234.6 263.9C234.4 263.3 234.3 262.2 234.6 261.7Z" fill="#ffffff" stroke="#333" stroke-width="0.45"/>
<path d="M269.2 257.7C271.0 257.7 273.3 258.3 274.5 259.6C275.7 260.8 276.4 263.3 276.4 265.2C276.4 267.1 275.7 269.6 274.5 270.9C273.3 272.1 271.0 272.8 269.2 272.8C267.5 272.8 265.1 272.1 264.0 270.9C262.8 269.6 262.1 267.1 262.1 265.2C262.1 263.3 262.8 260.8 264.0 259.6C265.1 258.3 267.5 257.7 269.2 257.7Z" fill="#000" filter="url(#spk)" opacity="1"/>
<ellipse cx="269.2" cy="265.2" rx="3.4" ry="4.0" fill="none" stroke="#fff" stroke-width="1.2" transform="rotate(0 269.2 265.2)"/>
<ellipse cx="269.4" cy="265.4" rx="1.1" ry="1.3" fill="#fff" stroke="none" stroke-width="0.5" transform="rotate(0 269.4 265.4)"/>
<path d="M253.0 235.8C254.0 235.1 258.7 238.8 258.7 240.4C258.7 241.9 254.0 245.8 253.0 245.1C252.1 244.3 252.1 236.6 253.0 235.8Z" fill="#fff"/>
<rect x="223.1" y="219.3" width="29.2" height="33.9" fill="none" stroke="#000" stroke-width="1.9"/>
<rect x="263.8" y="256.2" width="21.3" height="22.4" fill="none" stroke="#000" stroke-width="1.9"/>
<text x="256.7" y="226.2" font-size="10.3" text-anchor="start" stroke="#000" stroke-width="0.75">52.5%</text>
<text x="233.0" y="284.6" font-size="10.3" text-anchor="start" stroke="#000" stroke-width="0.75">16.2%</text>
<path d="M325.7 228.7C326.6 226.9 332.3 228.6 335.1 229.4C337.8 230.3 340.7 231.1 342.2 233.6C343.7 236.0 343.9 240.1 344.1 244.1C344.3 248.1 344.2 254.5 343.4 257.7C342.5 260.9 340.7 262.4 338.8 263.3C337.0 264.3 335.1 263.7 332.3 263.3C329.4 263.0 323.9 263.0 321.9 261.1C319.9 259.1 318.8 255.1 320.0 251.7C321.3 248.2 328.5 244.2 329.4 240.4C330.4 236.5 324.7 230.5 325.7 228.7Z" fill="#000" filter="url(#halo)" opacity="1"/>
<path d="M298.9 231.9C300.1 229.9 302.1 228.3 304.9 227.6C307.8 226.8 312.2 226.6 316.2 227.2C320.3 227.7 326.9 229.1 329.4 230.9C331.9 232.8 331.9 236.3 331.3 238.5C330.7 240.7 327.9 241.6 325.7 244.1C323.5 246.6 318.6 250.9 318.1 253.5C317.7 256.2 319.6 259.1 322.8 260.1C326.0 261.1 334.2 258.9 337.3 259.6C340.5 260.3 341.7 262.7 341.9 264.5C342.0 266.3 342.0 269.5 338.1 270.5C334.1 271.5 323.3 270.6 318.1 270.5C312.9 270.4 309.7 270.5 306.8 269.7C304.0 269.0 301.8 267.8 301.2 265.8C300.6 263.8 303.4 260.7 303.1 257.7C302.8 254.7 300.2 250.9 299.3 247.9C298.4 244.9 297.9 242.1 297.8 239.4C297.7 236.8 297.7 233.9 298.9 231.9Z" fill="#000" filter="url(#halo)" opacity="0.9"/>
<path d="M326.4 232.8C326.9 231.9 331.1 232.0 332.8 232.5C334.6 232.9 336.1 233.8 337.0 235.5C337.8 237.1 337.8 239.5 338.1 242.2C338.3 244.9 338.7 249.0 338.5 251.7C338.3 254.4 338.0 256.9 337.0 258.4C335.9 260.0 334.4 260.6 332.3 260.7C330.1 260.8 326.3 260.5 324.2 259.2C322.1 257.8 320.1 254.6 319.6 252.6C319.2 250.6 320.3 249.0 321.5 247.3C322.7 245.7 325.4 244.2 326.8 242.6C328.2 241.1 330.2 239.7 330.2 238.1C330.1 236.5 326.0 233.8 326.4 232.8Z" fill="#000" filter="url(#spk)" opacity="1"/>
<path d="M299.7 232.8C300.6 231.2 302.5 230.1 304.9 229.4C307.4 228.8 311.2 228.8 314.4 229.1C317.5 229.3 321.4 230.3 323.8 230.9C326.2 231.6 327.8 232.0 328.7 233.2C329.6 234.4 329.7 236.5 329.1 238.1C328.4 239.7 326.2 241.1 324.7 242.6C323.2 244.2 321.4 245.8 320.0 247.3C318.6 248.9 318.5 251.1 316.2 252.0C314.0 253.0 308.8 253.8 306.5 252.8C304.1 251.8 303.4 248.2 302.3 246.0C301.2 243.8 300.1 241.6 299.7 239.4C299.2 237.2 298.8 234.5 299.7 232.8Z" fill="#a8a8a8" stroke="#000" stroke-width="1.5"/>
<path d="M301.6 233.5C302.3 232.1 303.9 231.2 305.9 230.7C307.9 230.2 311.0 230.2 313.6 230.4C316.2 230.6 319.4 231.4 321.3 232.0C323.3 232.5 324.6 232.8 325.4 233.8C326.1 234.8 326.2 236.5 325.7 237.8C325.1 239.1 323.3 240.3 322.1 241.5C320.9 242.8 319.4 244.1 318.3 245.4C317.1 246.7 317.0 248.5 315.2 249.3C313.3 250.0 309.0 250.7 307.1 249.9C305.2 249.1 304.7 246.1 303.7 244.3C302.8 242.5 301.9 240.7 301.6 238.9C301.2 237.1 300.9 234.9 301.6 233.5Z" fill="#c4c4c4" stroke="#333" stroke-width="0.45"/>
<path d="M303.5 234.2C304.0 233.1 305.3 232.4 306.8 232.0C308.4 231.6 310.9 231.6 312.9 231.8C314.9 231.9 317.4 232.5 318.9 233.0C320.4 233.4 321.5 233.7 322.0 234.4C322.6 235.2 322.7 236.6 322.3 237.6C321.9 238.6 320.5 239.5 319.5 240.5C318.5 241.4 317.4 242.5 316.5 243.5C315.6 244.5 315.5 245.9 314.1 246.5C312.6 247.1 309.3 247.6 307.8 247.0C306.3 246.3 305.9 244.1 305.2 242.6C304.4 241.2 303.8 239.8 303.5 238.4C303.2 237.0 302.9 235.3 303.5 234.2Z" fill="#dcdcdc" stroke="#333" stroke-width="0.45"/>
<path d="M305.4 234.9C305.8 234.1 306.7 233.6 307.8 233.3C308.9 233.0 310.7 233.0 312.1 233.1C313.6 233.2 315.4 233.7 316.5 234.0C317.6 234.3 318.3 234.5 318.7 235.0C319.1 235.6 319.2 236.6 318.9 237.3C318.6 238.0 317.6 238.7 316.9 239.4C316.2 240.1 315.4 240.8 314.7 241.5C314.1 242.3 314.0 243.3 313.0 243.7C312.0 244.1 309.6 244.5 308.5 244.0C307.4 243.6 307.1 242.0 306.6 240.9C306.1 239.9 305.6 238.9 305.4 237.9C305.2 236.9 305.0 235.6 305.4 234.9Z" fill="#f0f0f0" stroke="#333" stroke-width="0.45"/>
<path d="M307.5 235.6C307.7 235.2 308.2 234.9 308.9 234.7C309.5 234.6 310.5 234.6 311.3 234.6C312.1 234.7 313.1 235.0 313.7 235.1C314.4 235.3 314.8 235.4 315.0 235.7C315.2 236.0 315.3 236.6 315.1 237.0C314.9 237.4 314.4 237.8 314.0 238.2C313.6 238.6 313.1 239.0 312.8 239.4C312.4 239.8 312.4 240.4 311.8 240.6C311.2 240.9 309.8 241.1 309.2 240.8C308.6 240.5 308.5 239.6 308.2 239.0C307.9 238.5 307.6 237.9 307.5 237.3C307.4 236.8 307.3 236.1 307.5 235.6Z" fill="#ffffff" stroke="#333" stroke-width="0.45"/>
<ellipse cx="326.6" cy="236.2" rx="1.7" ry="3.4" fill="#fafafa" stroke="none" stroke-width="0.5" transform="rotate(0 326.6 236.2)"/>
<path d="M303.1 259.6C304.0 258.2 306.5 257.1 308.7 256.7C310.9 256.4 313.9 256.6 316.2 257.3C318.6 258.0 320.5 260.2 322.8 261.1C325.2 261.9 328.0 262.4 330.4 262.4C332.8 262.4 335.7 260.7 337.3 261.1C338.9 261.4 340.0 263.2 340.0 264.5C340.0 265.7 339.3 267.8 337.3 268.6C335.4 269.4 331.7 269.1 328.5 269.2C325.3 269.2 321.4 269.0 318.1 268.8C314.8 268.6 311.2 268.7 308.7 268.0C306.2 267.4 304.0 266.3 303.1 264.8C302.1 263.4 302.1 260.9 303.1 259.6Z" fill="#b0b0b0" stroke="#000" stroke-width="1.5"/>
<path d="M305.1 260.3C305.9 259.2 307.9 258.4 309.7 258.1C311.4 257.8 313.8 257.9 315.7 258.5C317.6 259.1 319.1 260.9 321.0 261.5C322.8 262.2 325.0 262.6 327.0 262.6C328.9 262.6 331.3 261.3 332.6 261.5C333.8 261.8 334.7 263.2 334.7 264.2C334.7 265.2 334.1 266.9 332.6 267.6C331.0 268.2 328.0 268.0 325.5 268.0C322.9 268.0 319.8 267.9 317.2 267.7C314.6 267.6 311.7 267.6 309.7 267.1C307.6 266.6 305.9 265.7 305.1 264.5C304.4 263.4 304.4 261.4 305.1 260.3Z" fill="#cccccc" stroke="#333" stroke-width="0.45"/>
<path d="M307.2 261.1C307.8 260.3 309.3 259.6 310.6 259.4C311.9 259.2 313.7 259.3 315.1 259.7C316.5 260.2 317.7 261.5 319.1 262.0C320.5 262.5 322.1 262.8 323.6 262.8C325.0 262.8 326.8 261.8 327.8 262.0C328.7 262.2 329.4 263.3 329.4 264.0C329.4 264.8 328.9 266.0 327.8 266.5C326.6 267.0 324.4 266.8 322.5 266.8C320.5 266.9 318.2 266.7 316.2 266.6C314.3 266.5 312.1 266.6 310.6 266.2C309.1 265.8 307.8 265.1 307.2 264.2C306.6 263.4 306.6 261.9 307.2 261.1Z" fill="#e4e4e4" stroke="#333" stroke-width="0.45"/>
<path d="M309.8 262.0C310.1 261.6 311.0 261.2 311.8 261.0C312.5 260.9 313.6 261.0 314.4 261.2C315.2 261.5 315.9 262.3 316.7 262.5C317.5 262.8 318.5 263.0 319.4 263.0C320.2 263.0 321.2 262.4 321.8 262.5C322.4 262.7 322.7 263.3 322.7 263.7C322.7 264.2 322.5 264.9 321.8 265.2C321.1 265.5 319.8 265.4 318.7 265.4C317.6 265.4 316.2 265.3 315.1 265.3C313.9 265.2 312.7 265.2 311.8 265.0C310.9 264.8 310.1 264.4 309.8 263.9C309.5 263.4 309.5 262.5 309.8 262.0Z" fill="#f6f6f6" stroke="#333" stroke-width="0.45"/>
<ellipse cx="335.1" cy="264.8" rx="2.3" ry="1.9" fill="#e4e4e4" stroke="#444" stroke-width="0.5" transform="rotate(0 335.1 264.8)"/>
<rect x="293.6" y="220.6" width="29.8" height="33.9" fill="none" stroke="#000" stroke-width="1.9"/>
<rect x="331.7" y="257.7" width="22.6" height="22.6" fill="none" stroke="#000" stroke-width="1.9"/>
<text x="327.5" y="227.3" font-size="10.3" text-anchor="start" stroke="#000" stroke-width="0.75">64.8%</text>
<text x="298.1" y="284.6" font-size="10.3" text-anchor="start" stroke="#000" stroke-width="0.75">7.2%</text>
<path d="M378.6 231.9C380.3 228.8 386.1 232.2 389.9 232.8C393.7 233.5 398.1 234.1 401.2 235.7C404.3 237.2 406.7 239.4 408.4 242.2C410.0 245.1 410.4 248.8 411.0 252.6C411.6 256.4 412.4 261.0 412.1 264.8C411.9 268.6 411.6 273.3 409.5 275.4C407.3 277.5 402.9 277.5 399.3 277.7C395.7 277.8 390.8 277.3 388.0 276.1C385.2 275.0 383.8 274.6 382.4 270.5C381.0 266.4 380.2 258.1 379.5 251.7C378.9 245.2 376.9 235.0 378.6 231.9Z" fill="#000" filter="url(#halo)" opacity="1"/>
<path d="M363.2 232.8C364.2 230.3 366.1 229.1 368.2 229.1C370.3 229.0 373.6 230.6 375.8 232.5C377.9 234.3 380.1 235.9 381.2 240.4C382.3 244.8 381.6 254.5 382.4 259.2C383.1 263.9 385.6 265.9 385.8 268.6C385.9 271.3 385.3 273.6 383.5 275.4C381.7 277.2 377.7 278.8 374.8 279.2C371.9 279.5 368.2 279.6 366.2 277.7C364.2 275.7 363.2 271.4 362.8 267.7C362.4 264.0 364.0 259.4 363.9 255.4C363.8 251.5 362.2 247.9 362.0 244.1C361.9 240.4 362.1 235.3 363.2 232.8Z" fill="#000" filter="url(#halo)" opacity="0.9"/>
<path d="M376.7 233.8C377.5 232.1 382.1 233.6 384.2 234.3C386.4 235.1 388.6 236.5 389.9 238.5C391.2 240.4 391.6 243.3 391.8 246.0C392.0 248.7 392.6 253.1 391.0 254.5C389.5 255.9 384.3 256.2 382.4 254.5C380.5 252.8 380.5 247.6 379.5 244.1C378.6 240.7 375.9 235.4 376.7 233.8Z" fill="#000" filter="url(#halo)" opacity="0.95"/>
<path d="M379.0 237.5C379.6 235.8 382.7 236.8 384.2 237.5C385.8 238.3 387.2 239.9 388.0 242.2C388.8 244.6 389.8 249.8 389.1 251.7C388.5 253.5 385.7 254.2 384.2 253.5C382.8 252.9 381.4 250.6 380.5 247.9C379.6 245.2 378.3 239.3 379.0 237.5Z" fill="#000" filter="url(#halo)" opacity="0.9"/>
<path d="M379.7 244.1C380.8 243.3 384.1 244.1 386.1 245.1C388.1 246.0 390.1 248.1 391.8 249.8C393.4 251.4 394.5 253.7 395.9 255.1C397.3 256.4 398.7 256.8 400.3 257.7C401.8 258.5 403.8 258.8 405.3 260.1C406.9 261.5 409.0 263.7 409.7 265.8C410.4 267.8 410.8 270.7 409.7 272.4C408.6 274.1 405.7 275.7 403.1 276.1C400.4 276.6 396.3 276.0 393.7 275.2C391.0 274.4 388.8 272.7 387.1 271.4C385.3 270.2 384.3 269.7 383.3 267.7C382.3 265.6 381.8 262.2 381.2 259.2C380.6 256.2 380.0 252.3 379.7 249.8C379.5 247.3 378.7 244.9 379.7 244.1Z" fill="#000" filter="url(#spk)" opacity="1"/>
<path d="M364.5 233.8C365.1 231.6 366.0 231.2 367.7 231.3C369.3 231.4 372.7 232.5 374.5 234.3C376.2 236.2 377.3 239.0 378.2 242.2C379.1 245.5 379.3 250.4 379.7 253.5C380.2 256.7 380.1 258.6 380.9 261.1C381.6 263.6 384.0 266.5 384.2 268.6C384.5 270.7 383.9 272.5 382.4 273.9C380.8 275.3 377.3 276.7 374.8 277.1C372.4 277.5 369.4 277.7 367.7 276.1C365.9 274.6 364.9 271.1 364.5 267.7C364.1 264.2 365.5 259.4 365.4 255.4C365.3 251.5 364.1 247.7 363.9 244.1C363.8 240.5 363.8 235.9 364.5 233.8Z" fill="#c4c4c4" stroke="#000" stroke-width="1.6"/>
<path d="M366.2 238.1C366.7 236.4 367.4 236.1 368.7 236.1C370.1 236.2 372.7 237.1 374.2 238.6C375.6 240.0 376.5 242.3 377.2 244.9C377.9 247.4 378.0 251.4 378.4 253.9C378.7 256.4 378.7 257.9 379.3 260.0C379.9 262.0 381.8 264.3 382.0 266.0C382.2 267.7 381.7 269.1 380.5 270.2C379.2 271.3 376.4 272.5 374.5 272.8C372.5 273.1 370.1 273.3 368.7 272.0C367.3 270.7 366.5 268.0 366.2 265.2C365.9 262.5 367.0 258.6 366.9 255.4C366.8 252.3 365.8 249.3 365.7 246.4C365.6 243.5 365.7 239.8 366.2 238.1Z" fill="#e6e6e6" stroke="#333" stroke-width="0.45"/>
<path d="M368.3 243.5C368.6 242.3 369.1 242.1 370.0 242.2C371.0 242.2 372.8 242.8 373.8 243.8C374.7 244.8 375.4 246.4 375.8 248.2C376.3 249.9 376.4 252.7 376.7 254.4C376.9 256.1 376.9 257.2 377.3 258.5C377.7 259.9 379.0 261.5 379.2 262.7C379.3 263.9 379.0 264.8 378.1 265.6C377.3 266.4 375.3 267.1 374.0 267.3C372.6 267.5 371.0 267.7 370.0 266.8C369.1 266.0 368.5 264.1 368.3 262.2C368.1 260.3 368.9 257.6 368.8 255.4C368.8 253.3 368.1 251.2 368.0 249.2C367.9 247.2 367.9 244.7 368.3 243.5Z" fill="#d0d0d0" stroke="#333" stroke-width="0.45"/>
<path d="M370.4 248.9C370.6 248.3 370.9 248.2 371.4 248.2C371.9 248.2 372.9 248.6 373.4 249.1C373.9 249.6 374.3 250.5 374.5 251.5C374.8 252.4 374.9 253.9 375.0 254.9C375.1 255.8 375.1 256.4 375.3 257.1C375.5 257.9 376.3 258.7 376.3 259.4C376.4 260.0 376.2 260.5 375.8 261.0C375.3 261.4 374.2 261.8 373.5 261.9C372.8 262.0 371.9 262.1 371.4 261.6C370.8 261.2 370.5 260.1 370.4 259.1C370.3 258.1 370.7 256.6 370.7 255.4C370.7 254.3 370.3 253.1 370.2 252.0C370.2 251.0 370.2 249.6 370.4 248.9Z" fill="#b4b4b4" stroke="#333" stroke-width="0.45"/>
<ellipse cx="368.4" cy="251.7" rx="1.1" ry="11.3" fill="#8a8a8a" stroke="none" stroke-width="0.5" transform="rotate(0 368.4 251.7)"/>
<ellipse cx="376.0" cy="249.8" rx="1.3" ry="6.0" fill="#fafafa" stroke="none" stroke-width="0.5" transform="rotate(0 376.0 249.8)"/>
<ellipse cx="375.6" cy="269.7" rx="2.6" ry="3.0" fill="#f4f4f4" stroke="none" stroke-width="0.5" transform="rotate(0 375.6 269.7)"/>
<path d="M392.2 267.7C392.7 266.3 394.8 264.2 396.5 263.3C398.2 262.5 400.5 262.2 402.1 262.6C403.8 263.0 405.6 264.5 406.5 265.8C407.3 267.1 407.6 269.1 407.2 270.5C406.8 271.8 405.7 273.3 404.0 273.9C402.4 274.5 399.2 274.3 397.4 273.9C395.6 273.5 394.2 272.5 393.3 271.4C392.4 270.4 391.6 269.0 392.2 267.7Z" fill="#f0f0f0" stroke="#000" stroke-width="0.8"/>
<ellipse cx="401.6" cy="268.8" rx="2.8" ry="2.8" fill="#333" stroke="#000" stroke-width="0.5" transform="rotate(0 401.6 268.8)"/>
<ellipse cx="401.6" cy="268.8" rx="1.3" ry="1.3" fill="#fff" stroke="none" stroke-width="0.5" transform="rotate(0 401.6 268.8)"/>
<path d="M391.0 266.7C390.3 266.4 386.5 268.2 386.5 269.0C386.5 269.7 390.3 271.6 391.0 271.3C391.8 270.9 391.8 267.1 391.0 266.7Z" fill="#fff"/>
<rect x="361.6" y="220.6" width="29.8" height="34.8" fill="none" stroke="#000" stroke-width="1.9"/>
<rect x="391.0" y="255.8" width="21.8" height="23.2" fill="none" stroke="#000" stroke-width="1.9"/>
<rect x="392.0" y="245.1" width="30.3" height="9.2" fill="#fff"/>
<text x="395.3" y="227.3" font-size="10.3" text-anchor="start" stroke="#000" stroke-width="0.75">42.3%</text>
<text x="392.5" y="254.0" font-size="10.3" text-anchor="start" stroke="#000" stroke-width="0.75">21.3%</text>
<path d="M458.9 231.9C460.5 230.3 465.2 231.4 467.4 232.8C469.6 234.2 471.8 237.4 472.1 240.4C472.4 243.3 471.1 248.8 469.3 250.7C467.4 252.6 462.7 253.1 460.8 251.7C458.9 250.3 458.3 245.5 458.0 242.2C457.6 239.0 457.3 233.5 458.9 231.9Z" fill="#000" filter="url(#halo)" opacity="0.35"/>
<path d="M458.9 258.3C461.0 256.4 467.6 257.9 470.2 259.2C472.8 260.5 474.2 263.4 474.3 265.8C474.5 268.1 473.2 271.7 471.1 273.3C469.0 275.0 464.0 276.2 461.7 275.8C459.4 275.3 457.9 273.4 457.4 270.5C456.9 267.6 456.8 260.1 458.9 258.3Z" fill="#000" filter="url(#halo)" opacity="0.5"/>
<path d="M437.4 230.6C438.9 228.0 442.8 226.9 445.7 226.8C448.7 226.7 452.9 227.6 455.1 229.8C457.3 232.1 458.3 236.6 458.9 240.4C459.5 244.2 459.1 249.6 458.5 252.6C457.9 255.6 455.5 256.1 455.1 258.3C454.8 260.5 456.5 263.2 456.3 265.8C456.0 268.4 455.4 272.0 453.6 273.9C451.9 275.7 448.2 276.9 445.7 276.9C443.2 276.9 439.9 275.9 438.6 273.9C437.2 271.9 437.4 267.9 437.8 264.8C438.2 261.8 441.0 259.6 440.8 255.8C440.6 252.0 437.2 246.5 436.7 242.2C436.1 238.0 435.9 233.1 437.4 230.6Z" fill="#000" filter="url(#halo)" opacity="0.9"/>
<path d="M440.1 234.0C441.2 232.2 443.6 230.2 445.7 229.8C447.8 229.4 450.8 229.9 452.5 231.7C454.2 233.5 455.3 237.1 455.9 240.4C456.5 243.6 456.5 248.6 455.9 251.3C455.3 254.0 452.5 254.1 452.1 256.4C451.7 258.6 453.8 262.2 453.6 264.8C453.5 267.5 452.7 270.7 451.4 272.4C450.0 274.0 447.5 274.6 445.7 274.6C443.9 274.6 441.5 274.0 440.4 272.4C439.4 270.7 439.0 267.5 439.3 264.8C439.6 262.2 442.3 258.9 442.3 256.4C442.4 253.9 440.3 252.4 439.7 249.8C439.1 247.1 438.9 243.0 438.9 240.4C439.0 237.7 438.9 235.7 440.1 234.0Z" fill="#000" filter="url(#spk)" opacity="1"/>
<path d="M440.8 236.6C441.3 234.1 442.5 232.7 443.8 231.9C445.2 231.1 447.6 230.9 449.1 231.9C450.6 232.8 452.0 235.2 452.7 237.5C453.4 239.9 453.6 243.7 453.2 246.0C452.9 248.4 451.8 250.3 450.8 251.7C449.8 253.0 448.4 254.1 447.2 254.3C446.1 254.5 444.8 253.8 443.8 252.6C442.8 251.4 441.7 249.6 441.2 247.0C440.7 244.3 440.4 239.1 440.8 236.6Z" fill="#bcbcbc" stroke="#000" stroke-width="1.5"/>
<path d="M442.1 237.8C442.5 235.9 443.4 234.8 444.5 234.2C445.6 233.6 447.5 233.4 448.6 234.2C449.8 234.9 450.9 236.7 451.4 238.6C451.9 240.4 452.1 243.4 451.8 245.2C451.6 247.0 450.7 248.5 449.9 249.6C449.1 250.7 448.0 251.5 447.1 251.6C446.2 251.8 445.3 251.3 444.5 250.3C443.7 249.4 442.8 248.0 442.4 245.9C442.0 243.8 441.8 239.8 442.1 237.8Z" fill="#d6d6d6" stroke="#333" stroke-width="0.45"/>
<path d="M443.8 239.4C444.1 238.2 444.6 237.5 445.3 237.1C446.0 236.7 447.2 236.6 448.0 237.1C448.7 237.5 449.4 238.7 449.8 239.9C450.1 241.1 450.2 243.0 450.0 244.1C449.9 245.3 449.3 246.3 448.8 247.0C448.3 247.6 447.6 248.2 447.0 248.3C446.5 248.4 445.8 248.0 445.3 247.4C444.8 246.8 444.3 245.9 444.0 244.6C443.8 243.3 443.6 240.7 443.8 239.4Z" fill="#a8a8a8" stroke="#333" stroke-width="0.45"/>
<path d="M445.3 240.8C445.4 240.2 445.7 239.9 446.1 239.7C446.4 239.5 447.0 239.4 447.4 239.7C447.8 239.9 448.1 240.5 448.3 241.1C448.5 241.7 448.5 242.6 448.4 243.2C448.4 243.8 448.1 244.3 447.8 244.6C447.6 244.9 447.2 245.2 446.9 245.3C446.6 245.3 446.3 245.1 446.1 244.8C445.8 244.5 445.6 244.1 445.4 243.4C445.3 242.8 445.2 241.5 445.3 240.8Z" fill="#808080" stroke="#333" stroke-width="0.45"/>
<path d="M441.9 261.1C442.6 258.9 443.8 257.2 444.8 256.4C445.8 255.6 446.9 255.4 448.0 256.4C449.1 257.3 450.7 260.0 451.4 262.0C452.0 264.1 452.2 266.7 451.7 268.6C451.3 270.5 450.0 272.4 448.7 273.3C447.4 274.2 445.2 274.5 443.8 273.9C442.5 273.3 441.1 271.7 440.8 269.6C440.5 267.4 441.3 263.3 441.9 261.1Z" fill="#dcdcdc" stroke="#000" stroke-width="1.5"/>
<path d="M443.2 262.8C443.7 261.2 444.5 260.0 445.2 259.5C445.9 258.9 446.6 258.8 447.4 259.5C448.2 260.1 449.3 262.0 449.8 263.4C450.2 264.9 450.4 266.7 450.0 268.0C449.7 269.4 448.9 270.7 447.9 271.3C447.0 272.0 445.4 272.2 444.5 271.7C443.6 271.3 442.6 270.2 442.4 268.7C442.2 267.2 442.7 264.3 443.2 262.8Z" fill="#f0f0f0" stroke="#333" stroke-width="0.45"/>
<path d="M444.4 264.5C444.7 263.6 445.2 262.9 445.6 262.6C446.0 262.3 446.4 262.2 446.8 262.6C447.3 263.0 448.0 264.0 448.2 264.8C448.5 265.7 448.5 266.7 448.4 267.5C448.2 268.2 447.7 269.0 447.1 269.4C446.6 269.7 445.7 269.8 445.2 269.6C444.7 269.3 444.1 268.7 444.0 267.9C443.9 267.0 444.2 265.3 444.4 264.5Z" fill="#ffffff" stroke="#333" stroke-width="0.45"/>
<rect x="430.1" y="220.6" width="28.8" height="34.5" fill="none" stroke="#000" stroke-width="1.9"/>
<rect x="458.9" y="255.1" width="22.2" height="23.9" fill="none" stroke="#000" stroke-width="1.9"/>
<text x="464.3" y="227.3" font-size="10.3" text-anchor="start" stroke="#000" stroke-width="0.75">82.9%</text>
<text x="471.1" y="253.7" font-size="10.3" text-anchor="start" stroke="#000" stroke-width="0.75">0.3%</text>
<path d="M246.2 312.6C247.2 308.8 252.0 311.6 255.7 312.2C259.3 312.8 264.8 314.0 268.1 316.0C271.4 318.0 274.1 320.4 275.6 324.2C277.2 328.1 277.4 334.7 277.5 339.3C277.6 343.9 277.5 348.9 276.4 351.7C275.3 354.6 272.9 355.9 270.7 356.6C268.5 357.3 264.8 357.8 263.2 355.9C261.6 353.9 263.5 348.5 261.3 345.0C259.1 341.4 252.5 340.0 250.0 334.6C247.5 329.2 245.3 316.3 246.2 312.6Z" fill="#000" filter="url(#halo)" opacity="1"/>
<path d="M248.1 315.8C248.9 312.3 253.9 314.2 256.6 314.8C259.3 315.5 262.2 317.0 264.1 319.5C266.1 322.1 267.4 326.5 268.5 329.9C269.6 333.3 270.9 337.5 270.7 339.7C270.5 341.9 269.1 342.7 267.3 343.1C265.6 343.5 262.9 343.4 260.4 342.1C257.8 340.9 253.9 339.9 251.9 335.5C249.9 331.2 247.3 319.2 248.1 315.8Z" fill="#000" filter="url(#halo)" opacity="0.9"/>
<path d="M233.4 316.3C234.8 314.3 238.2 312.4 240.6 312.2C243.0 311.9 246.5 313.1 248.1 314.8C249.8 316.5 250.7 319.5 250.4 322.4C250.1 325.2 245.4 329.1 246.2 331.8C247.1 334.4 252.8 335.9 255.7 338.4C258.5 340.9 261.8 344.5 263.2 346.8C264.6 349.2 264.4 350.9 264.0 352.5C263.5 354.1 262.7 355.8 260.4 356.6C258.1 357.5 253.6 357.8 250.0 357.8C246.4 357.8 241.7 357.6 238.7 356.6C235.8 355.7 233.6 354.4 232.3 352.1C231.0 349.9 230.3 345.9 230.8 343.1C231.3 340.3 235.0 338.3 235.3 335.2C235.6 332.0 233.0 327.4 232.7 324.2C232.4 321.1 232.1 318.3 233.4 316.3Z" fill="#000" filter="url(#halo)" opacity="0.9"/>
<path d="M249.1 319.0C250.2 317.9 253.5 317.3 255.3 317.8C257.1 318.3 258.6 320.0 259.8 322.0C261.0 324.0 261.6 327.2 262.4 329.9C263.3 332.6 263.4 336.2 265.1 338.4C266.8 340.5 271.0 340.8 272.6 342.7C274.2 344.6 274.8 347.9 274.5 349.7C274.2 351.4 272.3 352.7 270.7 353.1C269.2 353.5 266.4 353.2 265.1 352.1C263.8 351.1 263.9 348.7 262.8 346.8C261.7 345.0 260.5 343.0 258.5 341.2C256.5 339.4 252.9 337.3 251.0 335.9C249.0 334.5 247.0 334.7 246.6 332.7C246.2 330.8 248.1 326.5 248.5 324.2C248.9 322.0 247.9 320.0 249.1 319.0Z" fill="#000" filter="url(#spk)" opacity="1"/>
<path d="M234.0 318.6C234.7 316.6 236.8 313.8 238.7 312.9C240.6 312.1 243.5 312.2 245.3 313.3C247.1 314.4 249.2 317.2 249.6 319.5C250.0 321.8 248.8 325.2 247.8 327.1C246.7 329.0 244.6 329.7 243.4 330.8C242.3 331.9 241.8 333.8 241.0 333.7C240.1 333.5 239.4 331.3 238.3 329.9C237.3 328.5 235.3 327.1 234.6 325.2C233.9 323.3 233.3 320.6 234.0 318.6Z" fill="#000" filter="url(#spk)" opacity="1"/>
<path d="M235.3 317.7C235.8 316.0 237.2 314.9 238.7 314.5C240.2 314.0 242.9 314.0 244.4 314.8C245.9 315.7 247.4 317.8 247.8 319.5C248.1 321.3 247.1 323.7 246.2 325.2C245.4 326.7 243.4 327.3 242.5 328.4C241.6 329.5 241.5 331.8 241.0 331.8C240.4 331.8 239.9 329.6 239.1 328.4C238.2 327.1 236.5 326.0 235.9 324.2C235.3 322.5 234.9 319.3 235.3 317.7Z" fill="#c8c8c8" stroke="#000" stroke-width="1.5"/>
<path d="M236.7 318.5C237.1 317.2 238.2 316.4 239.3 316.1C240.4 315.7 242.4 315.7 243.5 316.3C244.6 317.0 245.8 318.6 246.1 319.9C246.3 321.2 245.6 323.0 244.9 324.1C244.3 325.2 242.8 325.7 242.1 326.5C241.4 327.3 241.4 329.1 241.0 329.1C240.6 329.1 240.2 327.5 239.6 326.5C238.9 325.6 237.6 324.7 237.2 323.4C236.7 322.1 236.4 319.7 236.7 318.5Z" fill="#e0e0e0" stroke="#333" stroke-width="0.45"/>
<path d="M238.2 319.3C238.4 318.4 239.1 317.9 239.8 317.7C240.6 317.4 241.9 317.4 242.7 317.8C243.4 318.3 244.2 319.3 244.4 320.2C244.5 321.1 244.1 322.3 243.6 323.0C243.2 323.8 242.2 324.1 241.7 324.6C241.3 325.2 241.3 326.3 241.0 326.3C240.7 326.3 240.5 325.3 240.0 324.6C239.6 324.0 238.7 323.4 238.4 322.6C238.1 321.7 237.9 320.1 238.2 319.3Z" fill="#f4f4f4" stroke="#333" stroke-width="0.45"/>
<path d="M239.4 320.0C239.5 319.5 239.9 319.2 240.3 319.1C240.8 318.9 241.5 318.9 241.9 319.2C242.3 319.4 242.8 320.0 242.9 320.5C243.0 321.0 242.7 321.7 242.5 322.1C242.2 322.5 241.6 322.7 241.4 323.0C241.2 323.3 241.1 323.9 241.0 323.9C240.8 323.9 240.7 323.3 240.4 323.0C240.2 322.6 239.7 322.3 239.6 321.8C239.4 321.3 239.3 320.4 239.4 320.0Z" fill="#ffffff" stroke="#333" stroke-width="0.45"/>
<path d="M234.0 338.4C235.4 336.9 237.9 335.5 240.6 335.2C243.3 334.9 247.0 335.3 250.0 336.5C253.0 337.7 256.3 339.9 258.5 342.1C260.7 344.3 262.9 347.6 263.2 349.7C263.5 351.7 262.3 353.3 260.4 354.4C258.5 355.4 255.2 355.8 251.9 355.9C248.6 355.9 243.6 355.6 240.6 354.8C237.6 353.9 235.4 352.4 234.0 350.6C232.6 348.8 232.1 346.1 232.1 344.0C232.1 342.0 232.6 339.8 234.0 338.4Z" fill="#b0b0b0" stroke="#000" stroke-width="1.5"/>
<path d="M236.4 339.9C237.5 338.7 239.6 337.5 241.8 337.3C244.0 337.0 247.1 337.4 249.5 338.4C252.0 339.3 254.7 341.2 256.5 343.0C258.3 344.8 260.1 347.5 260.3 349.2C260.6 350.8 259.5 352.2 258.0 353.0C256.5 353.9 253.8 354.2 251.1 354.3C248.3 354.3 244.2 354.1 241.8 353.3C239.3 352.6 237.5 351.4 236.4 349.9C235.2 348.5 234.8 346.2 234.8 344.5C234.8 342.9 235.2 341.1 236.4 339.9Z" fill="#c8c8c8" stroke="#333" stroke-width="0.45"/>
<path d="M239.0 341.6C239.9 340.7 241.4 339.8 243.1 339.6C244.8 339.4 247.1 339.7 248.9 340.4C250.8 341.1 252.8 342.6 254.2 343.9C255.6 345.3 256.9 347.3 257.1 348.6C257.3 349.9 256.5 350.9 255.4 351.5C254.2 352.2 252.2 352.4 250.1 352.5C248.1 352.5 245.0 352.3 243.1 351.8C241.3 351.2 239.9 350.3 239.0 349.2C238.1 348.1 237.8 346.4 237.8 345.1C237.8 343.8 238.1 342.5 239.0 341.6Z" fill="#dedede" stroke="#333" stroke-width="0.45"/>
<path d="M241.9 343.5C242.5 342.9 243.5 342.3 244.6 342.2C245.6 342.1 247.1 342.2 248.3 342.7C249.5 343.2 250.8 344.1 251.7 345.0C252.6 345.8 253.5 347.2 253.6 348.0C253.7 348.8 253.2 349.4 252.5 349.9C251.7 350.3 250.4 350.4 249.1 350.5C247.8 350.5 245.7 350.4 244.6 350.0C243.4 349.7 242.5 349.1 241.9 348.4C241.4 347.6 241.2 346.5 241.2 345.7C241.2 344.9 241.4 344.0 241.9 343.5Z" fill="#f2f2f2" stroke="#333" stroke-width="0.45"/>
<ellipse cx="241.5" cy="346.5" rx="3.4" ry="0.9" fill="#444" stroke="none" stroke-width="0.5" transform="rotate(0 241.5 346.5)"/>
<ellipse cx="269.2" cy="346.1" rx="3.2" ry="3.8" fill="#bbb" stroke="#000" stroke-width="1.2" transform="rotate(0 269.2 346.1)"/>
<ellipse cx="269.2" cy="346.5" rx="1.5" ry="1.9" fill="#ececec" stroke="#444" stroke-width="0.5" transform="rotate(0 269.2 346.5)"/>
<rect x="223.3" y="301.3" width="30.5" height="31.5" fill="none" stroke="#000" stroke-width="1.9"/>
<rect x="263.8" y="338.4" width="21.7" height="23.2" fill="none" stroke="#000" stroke-width="1.9"/>
<text x="256.0" y="307.4" font-size="10.3" text-anchor="start" stroke="#000" stroke-width="0.75">4.6%</text>
<text x="236.2" y="365.8" font-size="10.3" text-anchor="start" stroke="#000" stroke-width="0.75">2.6%</text>
<path d="M320.0 310.7C321.6 307.2 331.5 311.1 335.1 312.6C338.7 314.0 340.2 316.2 341.5 319.4C342.8 322.6 342.6 327.8 343.0 331.8C343.4 335.7 344.4 340.8 343.7 343.1C343.1 345.3 341.2 345.2 338.8 345.3C336.5 345.5 331.6 346.0 329.4 344.0C327.2 342.1 327.2 339.2 325.7 333.7C324.1 328.1 318.4 314.2 320.0 310.7Z" fill="#000" filter="url(#halo)" opacity="1"/>
<path d="M323.8 313.9C324.9 310.8 330.7 313.7 333.2 314.8C335.6 315.9 337.4 317.7 338.5 320.5C339.5 323.3 339.5 328.5 339.6 331.8C339.7 335.1 340.4 338.7 338.8 340.3C337.3 341.8 332.4 342.3 330.4 341.2C328.3 340.1 327.7 338.2 326.6 333.7C325.5 329.1 322.7 317.0 323.8 313.9Z" fill="#000" filter="url(#halo)" opacity="0.9"/>
<path d="M324.7 314.8C325.6 311.9 330.4 314.7 332.3 315.8C334.1 316.9 335.3 318.8 336.0 321.4C336.7 324.1 336.7 328.9 336.6 331.8C336.4 334.7 336.2 337.6 335.1 338.9C334.0 340.3 331.1 340.6 329.8 339.7C328.5 338.8 328.0 337.8 327.2 333.7C326.3 329.5 323.9 317.8 324.7 314.8Z" fill="#000" filter="url(#halo)" opacity="0.7"/>
<path d="M298.9 314.8C299.9 312.1 302.4 310.6 304.9 309.6C307.5 308.6 311.4 308.4 314.4 308.8C317.3 309.2 321.0 310.2 322.8 312.0C324.7 313.8 325.8 316.9 325.7 319.5C325.5 322.2 323.5 325.2 321.9 328.0C320.3 330.8 315.6 334.4 316.2 336.5C316.9 338.6 322.2 340.0 325.7 340.8C329.1 341.6 334.0 340.2 337.0 341.2C340.0 342.2 343.1 344.9 343.7 346.8C344.4 348.8 344.4 351.7 340.7 352.9C337.1 354.0 327.2 353.3 321.9 353.6C316.6 353.9 312.2 355.1 308.7 354.8C305.2 354.4 302.3 353.4 300.8 351.7C299.3 350.1 298.9 347.5 299.7 345.0C300.4 342.4 305.4 339.6 305.3 336.5C305.3 333.4 300.4 329.7 299.3 326.1C298.2 322.5 298.0 317.6 298.9 314.8Z" fill="#000" filter="url(#halo)" opacity="0.9"/>
<path d="M299.7 316.3C300.3 314.1 301.7 312.1 304.0 311.1C306.3 310.0 310.5 309.7 313.4 309.9C316.3 310.2 319.6 311.2 321.5 312.4C323.4 313.6 324.2 314.8 324.9 317.1C325.7 319.4 325.7 322.9 326.0 326.1C326.4 329.4 325.1 334.0 326.8 336.5C328.5 339.0 333.6 339.8 336.2 341.2C338.8 342.5 341.0 343.3 342.2 344.6C343.4 345.8 343.8 347.5 343.4 348.7C343.0 350.0 342.1 351.6 339.8 352.1C337.5 352.7 334.0 351.8 329.4 352.1C324.9 352.4 316.9 353.9 312.5 354.0C308.1 354.1 305.1 353.7 303.1 352.7C301.0 351.6 300.2 349.7 300.1 347.8C299.9 345.9 301.0 343.0 302.3 341.2C303.6 339.4 307.4 338.6 307.8 337.1C308.2 335.5 305.9 333.9 304.6 331.8C303.3 329.6 300.9 326.8 300.1 324.2C299.2 321.7 299.0 318.5 299.7 316.3Z" fill="#000" filter="url(#spk)" opacity="1"/>
<path d="M300.8 316.7C301.2 314.8 302.1 313.5 304.0 312.6C306.0 311.7 310.0 311.2 312.5 311.4C315.0 311.7 317.6 312.5 319.1 313.9C320.6 315.2 321.5 317.7 321.5 319.5C321.5 321.4 320.1 323.5 319.1 325.2C318.0 326.9 316.2 328.3 315.3 329.9C314.4 331.5 314.8 333.8 313.4 334.6C312.0 335.4 308.2 335.5 306.8 334.6C305.4 333.8 305.8 331.2 304.9 329.5C304.1 327.8 302.2 326.4 301.6 324.2C300.9 322.1 300.4 318.7 300.8 316.7Z" fill="#c4c4c4" stroke="#000" stroke-width="1.5"/>
<path d="M302.6 317.3C302.9 315.7 303.6 314.6 305.2 313.9C306.8 313.2 310.1 312.8 312.1 313.0C314.2 313.2 316.3 313.9 317.5 315.0C318.8 316.1 319.6 318.1 319.6 319.6C319.6 321.2 318.4 322.9 317.5 324.3C316.7 325.7 315.2 326.8 314.5 328.1C313.7 329.4 314.1 331.4 312.9 332.0C311.8 332.6 308.7 332.7 307.5 332.0C306.4 331.3 306.7 329.2 306.0 327.8C305.2 326.4 303.8 325.3 303.2 323.5C302.6 321.8 302.2 318.9 302.6 317.3Z" fill="#d8d8d8" stroke="#333" stroke-width="0.45"/>
<path d="M304.3 317.9C304.6 316.7 305.1 315.8 306.4 315.3C307.6 314.7 310.2 314.4 311.8 314.6C313.4 314.7 315.1 315.3 316.0 316.1C317.0 317.0 317.6 318.5 317.6 319.7C317.6 320.9 316.7 322.3 316.0 323.4C315.4 324.5 314.2 325.4 313.6 326.4C313.0 327.4 313.3 328.9 312.4 329.4C311.5 329.9 309.1 329.9 308.2 329.4C307.3 328.8 307.5 327.2 307.0 326.1C306.4 325.0 305.3 324.1 304.8 322.8C304.4 321.4 304.1 319.2 304.3 317.9Z" fill="#e8e8e8" stroke="#333" stroke-width="0.45"/>
<path d="M306.1 318.5C306.3 317.7 306.7 317.0 307.6 316.6C308.5 316.2 310.3 316.0 311.5 316.1C312.6 316.2 313.8 316.6 314.5 317.2C315.2 317.9 315.6 319.0 315.6 319.8C315.6 320.7 315.0 321.7 314.5 322.4C314.0 323.2 313.2 323.9 312.8 324.6C312.3 325.3 312.5 326.4 311.9 326.8C311.2 327.1 309.5 327.2 308.9 326.8C308.2 326.4 308.4 325.2 308.0 324.4C307.6 323.6 306.8 323.0 306.4 322.0C306.1 321.0 305.9 319.4 306.1 318.5Z" fill="#f4f4f4" stroke="#333" stroke-width="0.45"/>
<path d="M308.1 319.2C308.2 318.7 308.4 318.4 308.9 318.1C309.4 317.9 310.4 317.8 311.1 317.9C311.7 317.9 312.4 318.1 312.8 318.5C313.2 318.8 313.4 319.5 313.4 320.0C313.4 320.4 313.1 321.0 312.8 321.4C312.5 321.9 312.1 322.2 311.8 322.7C311.6 323.1 311.7 323.7 311.3 323.9C311.0 324.1 310.0 324.1 309.6 323.9C309.3 323.7 309.4 323.0 309.1 322.6C308.9 322.1 308.4 321.7 308.2 321.2C308.1 320.6 307.9 319.7 308.1 319.2Z" fill="#ffffff" stroke="#333" stroke-width="0.45"/>
<path d="M306.5 329.5C307.3 329.0 313.1 329.0 314.0 329.5C314.8 330.1 311.6 331.7 311.5 332.7C311.5 333.8 314.4 335.4 313.6 335.9C312.8 336.5 307.6 336.5 306.8 335.9C306.0 335.4 308.8 333.8 308.7 332.7C308.7 331.7 305.6 330.1 306.5 329.5Z" fill="#fff"/>
<path d="M302.7 343.5C303.4 342.1 304.9 340.4 306.8 339.7C308.8 339.0 311.9 338.8 314.4 339.1C316.9 339.5 319.5 340.7 321.9 341.8C324.3 342.8 326.4 344.9 328.5 345.3C330.5 345.8 332.4 344.5 334.1 344.6C335.9 344.7 338.1 345.2 339.2 345.7C340.4 346.3 341.3 347.2 341.1 348.0C340.9 348.7 339.9 349.9 337.9 350.2C336.0 350.6 332.1 350.1 329.4 350.2C326.8 350.4 324.7 350.9 321.9 351.2C319.1 351.5 315.2 352.1 312.5 352.1C309.7 352.1 307.0 351.9 305.3 351.2C303.6 350.5 302.8 349.1 302.3 347.8C301.9 346.5 301.9 344.8 302.7 343.5Z" fill="#d4d4d4" stroke="#000" stroke-width="1.4"/>
<path d="M304.9 345.3C305.5 344.5 307.3 343.1 308.7 343.1C310.1 343.0 312.5 344.2 313.4 345.0C314.4 345.7 315.0 347.0 314.4 347.8C313.7 348.6 311.2 349.6 309.7 349.7C308.2 349.8 306.1 349.1 305.3 348.4C304.5 347.6 304.4 346.2 304.9 345.3Z" fill="#ececec" stroke="#222" stroke-width="0.9"/>
<ellipse cx="309.1" cy="346.8" rx="2.6" ry="0.9" fill="#333" stroke="none" stroke-width="0.5" transform="rotate(0 309.1 346.8)"/>
<ellipse cx="321.9" cy="346.5" rx="4.1" ry="1.9" fill="#e6e6e6" stroke="none" stroke-width="0.5" transform="rotate(12 321.9 346.5)"/>
<ellipse cx="336.2" cy="347.2" rx="2.4" ry="1.9" fill="#ececec" stroke="#222" stroke-width="0.8" transform="rotate(0 336.2 347.2)"/>
<ellipse cx="336.2" cy="347.2" rx="0.9" ry="0.8" fill="#444" stroke="none" stroke-width="0.5" transform="rotate(0 336.2 347.2)"/>
<rect x="293.6" y="301.6" width="29.8" height="33.9" fill="none" stroke="#000" stroke-width="1.9"/>
<rect x="331.7" y="338.9" width="22.6" height="23.0" fill="none" stroke="#000" stroke-width="1.9"/>
<text x="327.3" y="306.9" font-size="10.3" text-anchor="start" stroke="#000" stroke-width="0.75">37.5%</text>
<text x="298.7" y="366.6" font-size="10.3" text-anchor="start" stroke="#000" stroke-width="0.75">14.6%</text>
<path d="M365.8 310.3C367.0 309.5 371.4 310.9 374.8 311.8C378.2 312.7 382.5 315.1 386.1 315.6C389.7 316.0 393.4 314.3 396.5 314.5C399.6 314.6 402.7 314.7 404.6 316.3C406.5 318.0 407.0 320.9 408.0 324.2C409.0 327.6 410.0 332.7 410.6 336.5C411.2 340.3 411.9 343.5 411.7 346.8C411.6 350.2 411.6 354.6 409.9 356.6C408.1 358.7 405.2 359.0 401.2 359.3C397.2 359.6 389.0 361.2 386.1 358.5C383.3 355.8 385.5 348.8 384.2 343.1C383.0 337.4 381.4 328.6 378.6 324.2C375.8 319.9 369.8 319.0 367.7 316.7C365.5 314.4 364.6 311.1 365.8 310.3Z" fill="#000" filter="url(#halo)" opacity="1"/>
<path d="M386.1 318.6C387.2 315.2 393.7 316.3 396.5 316.3C399.3 316.3 401.6 317.0 403.1 318.6C404.6 320.2 405.7 323.2 405.3 326.1C405.0 329.1 403.8 334.8 401.2 336.5C398.6 338.2 392.4 339.5 389.9 336.5C387.4 333.5 385.0 322.0 386.1 318.6Z" fill="#000" filter="url(#halo)" opacity="0.8"/>
<path d="M366.9 339.7C368.5 337.7 371.2 336.0 373.9 335.5C376.6 335.1 381.1 335.3 383.3 337.1C385.5 338.8 386.5 343.0 386.9 345.9C387.3 348.9 386.9 352.2 385.8 354.8C384.6 357.4 382.2 360.3 379.7 361.5C377.3 362.8 373.4 363.1 371.1 362.3C368.7 361.5 366.9 359.1 365.8 356.6C364.7 354.2 364.5 350.6 364.7 347.8C364.9 345.0 365.4 341.7 366.9 339.7Z" fill="#000" filter="url(#halo)" opacity="0.9"/>
<path d="M368.1 312.6C368.7 312.1 372.6 313.2 374.8 314.5C377.1 315.7 379.5 317.8 381.4 320.1C383.3 322.4 384.7 327.4 386.1 328.4C387.5 329.4 388.6 326.8 389.9 326.1C391.2 325.4 392.7 323.9 393.7 324.2C394.7 324.6 395.8 326.4 395.9 328.0C396.1 329.6 394.6 331.5 394.6 333.7C394.6 335.9 395.2 339.5 395.9 341.2C396.6 342.9 399.2 342.6 398.9 344.0C398.7 345.4 394.8 347.9 394.6 349.7C394.4 351.4 398.3 353.2 397.8 354.4C397.3 355.5 393.9 356.4 391.8 356.6C389.7 356.9 386.5 357.7 385.4 355.9C384.2 354.1 385.4 349.1 385.0 345.9C384.6 342.7 383.7 339.5 383.1 336.5C382.5 333.5 382.1 330.6 381.2 328.0C380.3 325.4 379.4 322.7 377.7 320.9C376.0 319.0 372.7 318.5 371.1 317.1C369.5 315.7 367.4 313.0 368.1 312.6Z" fill="#000" filter="url(#spk)" opacity="1"/>
<path d="M369.2 315.8C370.1 314.2 373.0 314.0 374.8 314.8C376.7 315.7 378.8 318.5 380.1 320.9C381.4 323.2 382.1 326.1 382.7 329.0C383.4 331.8 384.6 336.1 383.9 337.8C383.2 339.5 380.4 339.3 378.6 339.3C376.8 339.3 374.8 338.9 373.3 337.8C371.9 336.7 370.6 335.0 369.9 332.7C369.3 330.5 369.7 327.1 369.6 324.2C369.4 321.4 368.3 317.3 369.2 315.8Z" fill="#000" filter="url(#spk)" opacity="1"/>
<path d="M400.4 316.7C401.9 315.4 404.1 316.7 404.2 318.2C404.3 319.8 402.1 323.7 400.8 326.1C399.5 328.6 397.7 331.7 396.3 332.9C394.9 334.2 392.3 334.8 392.2 333.7C392.0 332.5 394.2 329.0 395.5 326.1C396.9 323.3 399.0 318.0 400.4 316.7Z" fill="#000" filter="url(#spk)" opacity="1"/>
<path d="M371.8 318.2C372.4 317.0 373.6 316.2 374.8 316.7C376.0 317.2 377.8 319.4 379.0 321.4C380.2 323.5 381.3 326.4 382.0 329.0C382.7 331.6 383.7 335.5 383.1 337.1C382.6 338.7 380.2 338.6 378.6 338.6C377.0 338.6 375.0 338.2 373.7 337.1C372.4 335.9 371.1 333.9 370.7 331.8C370.2 329.6 370.9 326.5 371.1 324.2C371.3 322.0 371.2 319.5 371.8 318.2Z" fill="#fff" stroke="#000" stroke-width="0.9"/>
<path d="M373.3 322.4C373.8 321.0 374.8 320.6 375.6 321.4C376.3 322.2 377.2 324.8 377.8 327.1C378.5 329.4 379.9 333.7 379.4 335.2C378.8 336.6 375.9 336.8 374.8 335.9C373.8 335.0 373.2 332.2 372.9 329.9C372.7 327.6 372.9 323.8 373.3 322.4Z" fill="none" stroke="#666" stroke-width="0.5"/>
<path d="M372.6 334.0C371.9 333.4 375.0 330.8 376.3 331.0C377.7 331.2 381.1 334.7 380.5 335.2C379.9 335.7 373.3 334.7 372.6 334.0Z" fill="none" stroke="#666" stroke-width="0.5"/>
<ellipse cx="375.2" cy="323.9" rx="0.9" ry="1.1" fill="#ddd" stroke="#555" stroke-width="0.4" transform="rotate(0 375.2 323.9)"/>
<path d="M367.7 340.8C369.0 339.2 371.5 338.4 373.9 338.2C376.3 337.9 380.1 338.0 382.0 339.3C383.8 340.6 384.6 343.5 385.0 345.9C385.4 348.4 385.2 351.6 384.2 354.0C383.3 356.4 381.4 358.9 379.4 360.0C377.3 361.2 374.0 361.7 372.0 361.0C370.0 360.3 368.3 358.1 367.3 355.9C366.3 353.7 365.9 350.3 366.0 347.8C366.0 345.3 366.4 342.4 367.7 340.8Z" fill="#c4c4c4" stroke="#000" stroke-width="1.6"/>
<path d="M369.1 342.6C370.2 341.3 372.2 340.7 374.1 340.5C376.0 340.3 379.1 340.4 380.6 341.4C382.0 342.4 382.7 344.7 383.0 346.7C383.3 348.6 383.1 351.3 382.4 353.1C381.6 355.0 380.1 357.0 378.4 358.0C376.8 358.9 374.2 359.3 372.6 358.7C371.0 358.2 369.6 356.4 368.8 354.6C368.0 352.9 367.7 350.2 367.8 348.2C367.8 346.2 368.1 343.9 369.1 342.6Z" fill="#d8d8d8" stroke="#333" stroke-width="0.45"/>
<path d="M370.9 344.8C371.6 343.9 373.0 343.5 374.3 343.4C375.6 343.2 377.7 343.3 378.8 344.0C379.8 344.7 380.2 346.3 380.4 347.6C380.6 348.9 380.5 350.8 380.0 352.1C379.5 353.3 378.4 354.7 377.3 355.4C376.2 356.0 374.4 356.3 373.3 355.9C372.2 355.5 371.2 354.3 370.7 353.1C370.1 351.9 369.9 350.0 370.0 348.6C370.0 347.3 370.2 345.7 370.9 344.8Z" fill="#bcbcbc" stroke="#333" stroke-width="0.45"/>
<path d="M372.8 347.2C373.2 346.7 373.9 346.5 374.6 346.5C375.2 346.4 376.3 346.4 376.8 346.8C377.4 347.1 377.6 347.9 377.7 348.6C377.8 349.3 377.7 350.2 377.5 350.9C377.2 351.5 376.7 352.2 376.1 352.6C375.5 352.9 374.6 353.0 374.0 352.8C373.5 352.6 373.0 352.0 372.7 351.4C372.4 350.8 372.3 349.8 372.4 349.1C372.4 348.4 372.5 347.6 372.8 347.2Z" fill="#9a9a9a" stroke="#333" stroke-width="0.45"/>
<ellipse cx="379.4" cy="352.5" rx="1.5" ry="3.8" fill="#ececec" stroke="none" stroke-width="0.5" transform="rotate(0 379.4 352.5)"/>
<path d="M395.5 349.7C395.5 348.0 398.6 345.1 400.3 344.0C402.0 342.9 404.4 342.5 405.7 343.1C407.1 343.7 408.2 346.2 408.4 347.8C408.5 349.4 407.8 351.8 406.5 352.9C405.1 353.9 402.1 354.5 400.3 354.0C398.4 353.5 395.5 351.3 395.5 349.7Z" fill="#f8f8f8" stroke="#000" stroke-width="1.2"/>
<rect x="361.6" y="303.2" width="29.8" height="34.7" fill="none" stroke="#000" stroke-width="1.9"/>
<rect x="391.0" y="338.4" width="21.8" height="22.6" fill="none" stroke="#000" stroke-width="1.9"/>
<rect x="402.1" y="328.4" width="20.2" height="9.4" fill="#fff"/>
<text x="394.0" y="307.4" font-size="10.3" text-anchor="start" stroke="#000" stroke-width="0.75">3.5%</text>
<text x="402.4" y="337.0" font-size="10.3" text-anchor="start" stroke="#000" stroke-width="0.75">12%</text>
<path d="M458.5 312.9C460.0 311.0 464.5 311.5 466.8 312.6C469.1 313.7 471.5 316.7 472.1 319.5C472.6 322.4 471.9 327.9 470.2 329.9C468.5 331.9 463.8 332.7 461.7 331.8C459.7 330.8 458.5 327.4 458.0 324.2C457.4 321.1 457.0 314.9 458.5 312.9Z" fill="#000" filter="url(#halo)" opacity="0.35"/>
<path d="M459.8 341.6C461.8 340.0 467.8 340.9 470.2 342.1C472.6 343.3 474.3 346.3 474.3 348.7C474.3 351.1 472.3 355.2 470.2 356.6C468.1 358.1 463.7 358.2 461.7 357.4C459.7 356.5 458.5 354.2 458.1 351.6C457.8 348.9 457.8 343.1 459.8 341.6Z" fill="#000" filter="url(#halo)" opacity="0.55"/>
<path d="M436.3 313.3C437.6 311.0 440.9 309.0 443.8 308.4C446.8 307.9 451.6 308.7 454.2 310.1C456.8 311.6 458.3 314.4 459.3 317.1C460.2 319.8 460.3 322.9 460.0 326.1C459.8 329.4 458.5 333.4 457.8 336.5C457.0 339.6 455.9 342.2 455.7 345.0C455.5 347.7 457.4 350.8 456.6 353.1C455.9 355.3 453.7 357.5 451.4 358.5C449.1 359.5 445.2 359.8 442.9 359.1C440.6 358.4 438.3 356.6 437.6 354.4C436.9 352.2 437.9 348.6 438.6 345.9C439.2 343.2 441.5 340.7 441.4 338.4C441.3 336.0 438.7 334.4 437.8 331.8C436.9 329.1 436.2 325.4 435.9 322.4C435.7 319.3 435.0 315.6 436.3 313.3Z" fill="#000" filter="url(#halo)" opacity="0.85"/>
<path d="M438.6 314.5C439.5 312.4 441.6 310.9 443.8 310.3C446.0 309.7 449.7 309.6 451.7 310.7C453.8 311.8 455.3 314.5 456.3 317.1C457.2 319.7 457.6 323.4 457.4 326.1C457.2 328.9 456.0 331.5 455.1 333.7C454.3 335.8 452.4 337.0 452.1 338.9C451.8 340.9 452.8 343.3 453.2 345.3C453.7 347.3 455.3 349.0 454.8 351.0C454.3 352.9 452.1 355.9 450.2 357.0C448.4 358.1 445.2 358.1 443.5 357.4C441.7 356.7 440.1 354.9 439.7 352.9C439.3 350.8 440.6 347.3 441.2 345.0C441.8 342.6 443.1 341.1 443.1 338.6C443.0 336.1 441.6 332.6 440.8 329.9C440.0 327.2 438.7 324.9 438.4 322.4C438.0 319.8 437.6 316.5 438.6 314.5Z" fill="#000" filter="url(#spk)" opacity="1"/>
<path d="M440.1 314.8C440.7 313.1 442.0 312.6 443.8 312.2C445.7 311.8 449.2 311.6 451.0 312.6C452.8 313.5 454.0 315.6 454.8 317.8C455.5 320.1 455.9 323.6 455.7 326.1C455.5 328.7 454.5 331.2 453.6 333.3C452.8 335.4 451.0 336.6 450.6 338.6C450.2 340.5 451.0 343.0 451.4 345.0C451.8 347.0 453.4 348.9 453.1 350.6C452.7 352.3 451.0 354.5 449.5 355.3C447.9 356.2 445.2 356.2 443.8 355.7C442.5 355.2 441.4 354.3 441.2 352.5C441.0 350.7 442.1 347.3 442.7 345.0C443.3 342.6 444.6 341.1 444.6 338.6C444.6 336.1 443.3 332.6 442.5 329.9C441.8 327.2 440.5 324.9 440.1 322.4C439.7 319.9 439.4 316.5 440.1 314.8Z" fill="#cccccc" stroke="#000" stroke-width="0.6"/>
<ellipse cx="445.0" cy="320.5" rx="1.1" ry="5.3" fill="#555" stroke="none" stroke-width="0.5" transform="rotate(-8 445.0 320.5)"/>
<ellipse cx="449.9" cy="321.4" rx="0.9" ry="4.7" fill="#666" stroke="none" stroke-width="0.5" transform="rotate(-8 449.9 321.4)"/>
<ellipse cx="447.6" cy="331.8" rx="1.9" ry="3.0" fill="#e8e8e8" stroke="none" stroke-width="0.5" transform="rotate(0 447.6 331.8)"/>
<ellipse cx="447.2" cy="344.0" rx="2.3" ry="6.0" fill="#f6f6f6" stroke="none" stroke-width="0.5" transform="rotate(0 447.2 344.0)"/>
<ellipse cx="445.3" cy="351.7" rx="2.4" ry="2.6" fill="#fff" stroke="#000" stroke-width="1.3" transform="rotate(0 445.3 351.7)"/>
<ellipse cx="458.1" cy="324.6" rx="1.3" ry="1.7" fill="#000" stroke="none" stroke-width="0.5" transform="rotate(0 458.1 324.6)"/>
<rect x="430.1" y="303.2" width="28.8" height="34.7" fill="none" stroke="#000" stroke-width="1.9"/>
<rect x="458.9" y="338.4" width="22.2" height="22.0" fill="none" stroke="#000" stroke-width="1.9"/>
<text x="462.0" y="306.9" font-size="10.3" text-anchor="start" stroke="#000" stroke-width="0.75">68.4%</text>
<text x="469.0" y="336.4" font-size="10.3" text-anchor="start" stroke="#000" stroke-width="0.75">0.7%</text>
</g>
</svg>
</body></html>
